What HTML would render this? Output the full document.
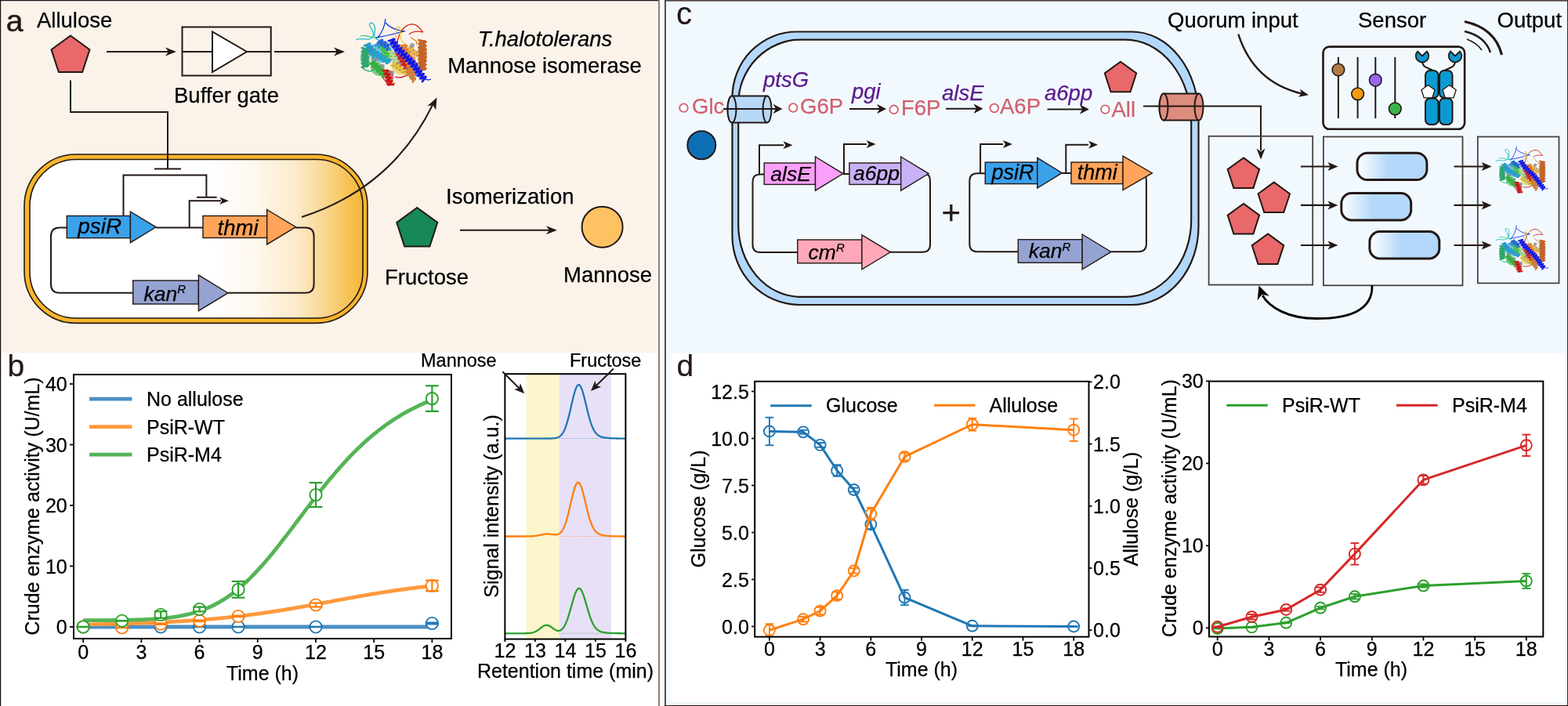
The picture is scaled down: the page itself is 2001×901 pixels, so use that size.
<!DOCTYPE html>
<html><head><meta charset="utf-8"><title>Figure</title>
<style>html,body{margin:0;padding:0;background:#fff;width:2001px;height:901px;overflow:hidden}svg{display:block}</style>
</head><body>
<svg width="2001" height="901" viewBox="0 0 2001 901" font-family='"Liberation Sans", Arial, Helvetica, sans-serif'><defs>
<linearGradient id="cellgrad" x1="0" y1="0" x2="1" y2="0">
<stop offset="0" stop-color="#ffffff"/><stop offset="0.55" stop-color="#ffffff"/>
<stop offset="0.68" stop-color="#FEF7EC"/><stop offset="0.8" stop-color="#FCEACA"/><stop offset="0.88" stop-color="#F9D894"/><stop offset="0.95" stop-color="#F7C459"/><stop offset="1" stop-color="#F5B535"/>
</linearGradient>
<linearGradient id="capgrad" x1="0" y1="0" x2="1" y2="0">
<stop offset="0" stop-color="#ffffff"/><stop offset="0.45" stop-color="#B3D8FB"/><stop offset="1" stop-color="#B3D8FB"/>
</linearGradient>
<symbol id="prot" viewBox="0 0 108 96" overflow="visible"><ellipse cx="18" cy="56" rx="6" ry="12" transform="rotate(0 18 56)" fill="#1faa70" opacity="0.6"/><ellipse cx="36" cy="50" rx="15" ry="11" transform="rotate(30 36 50)" fill="#1ea0d4" opacity="0.6"/><ellipse cx="34" cy="70" rx="10" ry="8" transform="rotate(40 34 70)" fill="#2fae3c" opacity="0.6"/><ellipse cx="45" cy="47" rx="6" ry="6" transform="rotate(0 45 47)" fill="#40d040" opacity="0.6"/><ellipse cx="56" cy="55" rx="7" ry="8" transform="rotate(0 56 55)" fill="#b9dc8c" opacity="0.6"/><ellipse cx="62" cy="70" rx="10" ry="7" transform="rotate(20 62 70)" fill="#e6c83c" opacity="0.6"/><ellipse cx="66" cy="58" rx="6" ry="10" transform="rotate(30 66 58)" fill="#d81818" opacity="0.6"/><ellipse cx="49" cy="82" rx="5" ry="10" transform="rotate(10 49 82)" fill="#d01010" opacity="0.6"/><ellipse cx="76" cy="60" rx="7" ry="20" transform="rotate(0 76 60)" fill="#f08a28" opacity="0.6"/><ellipse cx="91" cy="52" rx="6" ry="19" transform="rotate(0 91 52)" fill="#cf6420" opacity="0.6"/><ellipse cx="72" cy="60" rx="8" ry="26" transform="rotate(-40 72 60)" fill="#1414ee" opacity="0.6"/><ellipse cx="55" cy="39" rx="5" ry="8" transform="rotate(-30 55 39)" fill="#1818e8" opacity="0.6"/><ellipse cx="42" cy="39" rx="7" ry="5" transform="rotate(20 42 39)" fill="#2070e0" opacity="0.6"/><ellipse cx="30" cy="58" rx="5" ry="3" fill="#8c8c8c" opacity="0.8"/><ellipse cx="47" cy="60" rx="4" ry="3" fill="#8c8c8c" opacity="0.8"/><ellipse cx="60" cy="62" rx="4" ry="3" fill="#8c8c8c" opacity="0.8"/><ellipse cx="70" cy="48" rx="3" ry="4" fill="#8c8c8c" opacity="0.8"/><ellipse cx="84" cy="70" rx="3" ry="4" fill="#8c8c8c" opacity="0.8"/><ellipse cx="52" cy="75" rx="3" ry="3" fill="#8c8c8c" opacity="0.8"/><ellipse cx="40" cy="66" rx="3" ry="2" fill="#8c8c8c" opacity="0.8"/><ellipse cx="78" cy="40" rx="3" ry="3" fill="#8c8c8c" opacity="0.8"/><path d="M6 33C14 29 24 36 28 28C31 20 21 16 24 12C28 9 32 15 30 25C29 31 34 34 40 34" fill="none" stroke="#1fc0c8" stroke-width="1.3"/><path d="M12 28C18 25 24 31 33 30" fill="none" stroke="#30d080" stroke-width="1.3"/><path d="M44 6C43 15 40 23 34 30M44 11C50 18 60 21 69 22M32 30C45 28 56 25 67 22" fill="none" stroke="#1838e0" stroke-width="1.3"/><path d="M58 42C60 26 66 15 76 13C85 12 88 19 92 23M74 26C79 21 87 22 92 23" fill="none" stroke="#d82818" stroke-width="1.3"/><path d="M58 31C55 21 59 13 62 17C64 24 60 31 69 39" fill="none" stroke="#d8d040" stroke-width="1.3"/><path d="M87 80C94 83 98 85 102 83" fill="none" stroke="#1030f0" stroke-width="1.3"/><path d="M76 29C80 35 86 32 83 39" fill="none" stroke="#e08020" stroke-width="1.3"/><path d="M40 80C46 90 52 92 56 88" fill="none" stroke="#d01818" stroke-width="1.3"/><path d="M14 68C20 74 26 74 30 70" fill="none" stroke="#20b070" stroke-width="1.3"/><path d="M56 80C62 82 70 80 74 76" fill="none" stroke="#d01818" stroke-width="1.3"/><line x1="18" y1="43" x2="18" y2="68" stroke="#7a7a7a" stroke-width="7.7" opacity="0.9"/><path d="M13.75 43 L22.25 45.5 L13.75 48 L22.25 50.5 L13.75 53 L22.25 55.5 L13.75 58 L22.25 60.5 L13.75 63 L22.25 65.5 L13.75 68" fill="none" stroke="#1fae6c" stroke-width="2.5" stroke-linejoin="round" stroke-linecap="round"/><line x1="20" y1="38" x2="31" y2="53" stroke="#7a7a7a" stroke-width="7" opacity="0.9"/><path d="M16.98 40.22 L24.4 37.66 L19.73 43.97 L27.15 41.41 L22.48 47.72 L29.9 45.16 L25.23 51.47 L32.65 48.91 L27.98 55.22" fill="none" stroke="#1e9bd0" stroke-width="2.5" stroke-linejoin="round" stroke-linecap="round"/><line x1="27" y1="48" x2="49" y2="61" stroke="#7a7a7a" stroke-width="7" opacity="0.9"/><path d="M25.09 51.23 L30.91 45.95 L29.09 53.59 L34.91 48.32 L33.09 55.96 L38.91 50.68 L37.09 58.32 L42.91 53.04 L41.09 60.68 L46.91 55.41 L45.09 63.05 L50.91 57.77" fill="none" stroke="#18a8d8" stroke-width="2.5" stroke-linejoin="round" stroke-linecap="round"/><line x1="33" y1="37" x2="50" y2="48" stroke="#7a7a7a" stroke-width="7" opacity="0.9"/><path d="M30.96 40.15 L37.16 35.23 L35.21 42.9 L41.41 37.98 L39.46 45.65 L45.66 40.73 L43.71 48.4 L49.91 43.48 L47.96 51.15" fill="none" stroke="#22a0da" stroke-width="2.5" stroke-linejoin="round" stroke-linecap="round"/><line x1="26" y1="61" x2="44" y2="79" stroke="#7a7a7a" stroke-width="7" opacity="0.9"/><path d="M23.35 63.65 L30.29 59.98 L26.62 66.92 L33.56 63.26 L29.89 70.2 L36.83 66.53 L33.17 73.47 L40.11 69.8 L36.44 76.74 L43.38 73.08 L39.71 80.02 L46.65 76.35" fill="none" stroke="#2fb63a" stroke-width="2.5" stroke-linejoin="round" stroke-linecap="round"/><line x1="40" y1="42" x2="48" y2="55" stroke="#7a7a7a" stroke-width="5.6" opacity="0.9"/><path d="M37.66 43.44 L43.68 42.73 L40.32 47.77 L46.34 47.06 L42.99 52.11 L49.01 51.39 L45.66 56.44" fill="none" stroke="#3fd040" stroke-width="2.5" stroke-linejoin="round" stroke-linecap="round"/><line x1="36" y1="34" x2="48" y2="43" stroke="#7a7a7a" stroke-width="6.3" opacity="0.9"/><path d="M34.05 36.6 L39.95 32.9 L38.05 39.6 L43.95 35.9 L42.05 42.6 L47.95 38.9 L46.05 45.6" fill="none" stroke="#1e64e0" stroke-width="2.5" stroke-linejoin="round" stroke-linecap="round"/><line x1="50" y1="47" x2="58" y2="61" stroke="#7a7a7a" stroke-width="5.6" opacity="0.9"/><path d="M47.61 48.36 L53.53 47.64 L49.9 52.36 L55.82 51.64 L52.18 56.36 L58.1 55.64 L54.47 60.36 L60.39 59.64" fill="none" stroke="#b8e088" stroke-width="2.5" stroke-linejoin="round" stroke-linecap="round"/><line x1="53" y1="63" x2="72" y2="75" stroke="#7a7a7a" stroke-width="6.3" opacity="0.9"/><path d="M51.26 65.75 L56.85 61.59 L55.49 68.41 L61.07 64.25 L59.71 71.08 L65.29 66.92 L63.93 73.75 L69.51 69.59 L68.15 76.41 L73.74 72.25" fill="none" stroke="#e8c838" stroke-width="2.5" stroke-linejoin="round" stroke-linecap="round"/><line x1="61" y1="50" x2="71" y2="68" stroke="#7a7a7a" stroke-width="6.3" opacity="0.9"/><path d="M58.16 51.58 L65.09 50.67 L60.66 56.08 L67.59 55.17 L63.16 60.58 L70.09 59.67 L65.66 65.08 L72.59 64.17 L68.16 69.58" fill="none" stroke="#e01818" stroke-width="2.5" stroke-linejoin="round" stroke-linecap="round"/><line x1="44" y1="71" x2="51" y2="91" stroke="#7a7a7a" stroke-width="6.3" opacity="0.9"/><path d="M40.93 72.07 L47.85 72.15 L42.49 76.52 L49.4 76.59 L44.04 80.96 L50.96 81.04 L45.6 85.41 L52.51 85.48 L47.15 89.85 L54.07 89.93" fill="none" stroke="#d81010" stroke-width="2.5" stroke-linejoin="round" stroke-linecap="round"/><line x1="67" y1="39" x2="79" y2="79" stroke="#7a7a7a" stroke-width="7" opacity="0.9"/><path d="M63.41 40.08 L71.26 40.14 L64.74 44.52 L72.59 44.59 L66.07 48.97 L73.93 49.03 L67.41 53.41 L75.26 53.48 L68.74 57.86 L76.59 57.92 L70.07 62.3 L77.93 62.37 L71.41 66.74 L79.26 66.81 L72.74 71.19 L80.59 71.26 L74.07 75.63 L81.93 75.7 L75.41 80.08" fill="none" stroke="#f08020" stroke-width="2.5" stroke-linejoin="round" stroke-linecap="round"/><line x1="75" y1="45" x2="87" y2="53" stroke="#7a7a7a" stroke-width="5.6" opacity="0.9"/><path d="M73.47 47.29 L78.53 44.05 L77.47 49.95 L82.53 46.71 L81.47 52.62 L86.53 49.38 L85.47 55.29" fill="none" stroke="#f0b848" stroke-width="2.5" stroke-linejoin="round" stroke-linecap="round"/><line x1="91" y1="33" x2="91" y2="72" stroke="#7a7a7a" stroke-width="8.4" opacity="0.9"/><path d="M86.25 33 L95.75 35.44 L86.25 37.88 L95.75 40.31 L86.25 42.75 L95.75 45.19 L86.25 47.62 L95.75 50.06 L86.25 52.5 L95.75 54.94 L86.25 57.38 L95.75 59.81 L86.25 62.25 L95.75 64.69 L86.25 67.12 L95.75 69.56 L86.25 72" fill="none" stroke="#d0601a" stroke-width="2.5" stroke-linejoin="round" stroke-linecap="round"/><line x1="72" y1="72" x2="81" y2="85" stroke="#7a7a7a" stroke-width="5.6" opacity="0.9"/><path d="M69.74 73.57 L75.76 72.6 L72.74 77.9 L78.76 76.93 L75.74 82.23 L81.76 81.27 L78.74 86.57" fill="none" stroke="#d88030" stroke-width="2.5" stroke-linejoin="round" stroke-linecap="round"/><line x1="51" y1="32" x2="61" y2="46" stroke="#7a7a7a" stroke-width="7" opacity="0.9"/><path d="M47.95 34.18 L55.48 31.82 L50.81 38.18 L58.34 35.82 L53.66 42.18 L61.19 39.82 L56.52 46.18 L64.05 43.82" fill="none" stroke="#1414f0" stroke-width="2.5" stroke-linejoin="round" stroke-linecap="round"/><line x1="60" y1="44" x2="81" y2="66" stroke="#7a7a7a" stroke-width="7" opacity="0.9"/><path d="M57.29 46.59 L64.33 43.1 L60.52 49.97 L67.56 46.49 L63.75 53.36 L70.79 49.87 L66.98 56.74 L74.02 53.26 L70.21 60.13 L77.25 56.64 L73.44 63.51 L80.48 60.03 L76.67 66.9 L83.71 63.41" fill="none" stroke="#1010f0" stroke-width="2.5" stroke-linejoin="round" stroke-linecap="round"/><line x1="80" y1="65" x2="94" y2="84" stroke="#7a7a7a" stroke-width="7" opacity="0.9"/><path d="M76.98 67.22 L84.42 64.68 L79.78 71.02 L87.22 68.48 L82.58 74.82 L90.02 72.28 L85.38 78.62 L92.82 76.08 L88.18 82.42 L95.62 79.88 L90.98 86.22" fill="none" stroke="#1018f0" stroke-width="2.5" stroke-linejoin="round" stroke-linecap="round"/></symbol>
</defs><rect x="0" y="0" width="2001" height="901" rx="0" fill="#ffffff" stroke="none" stroke-width="1"/>
<rect x="2.5" y="2.5" width="836.5" height="448" rx="0" fill="#FBF3EA" stroke="none" stroke-width="1"/>
<line x1="0.6" y1="0" x2="0.6" y2="901" stroke="#1a1010" stroke-width="1.3"/>
<line x1="0" y1="0.6" x2="842" y2="0.6" stroke="#1a1010" stroke-width="1.3"/>
<line x1="841" y1="0" x2="841" y2="901" stroke="#8a807c" stroke-width="2"/>
<rect x="850" y="2.5" width="1149" height="896.5" rx="0" fill="#F2F9FE" stroke="none" stroke-width="1"/>
<rect x="855.5" y="451" width="1140.5" height="445" rx="0" fill="#ffffff" stroke="none" stroke-width="1"/>
<line x1="849" y1="0" x2="849" y2="901" stroke="#564c4a" stroke-width="2"/>
<line x1="848" y1="0.9" x2="2001" y2="0.9" stroke="#564c4a" stroke-width="1.8"/>
<line x1="1999.4" y1="2" x2="1999.4" y2="899" stroke="#ffffff" stroke-width="1"/>
<line x1="851" y1="899.4" x2="1999" y2="899.4" stroke="#ffffff" stroke-width="1"/>
<line x1="2000.5" y1="0" x2="2000.5" y2="901" stroke="#3a3030" stroke-width="1.2"/>
<line x1="848" y1="900.5" x2="2001" y2="900.5" stroke="#231815" stroke-width="1.2"/>
<text x="7.8" y="40" font-size="39" text-anchor="start" fill="#231815" stroke="#231815" stroke-width="0.5">a</text>
<text x="47" y="35" font-size="27.5" text-anchor="start" fill="#000" stroke="#000" stroke-width="0.25">Allulose</text>
<polygon points="90,45.5 114.45,63.26 105.11,92 74.89,92 65.55,63.26" fill="#E9686A" stroke="#231815" stroke-width="2" stroke-linejoin="miter"/>
<line x1="136" y1="66" x2="215" y2="66" stroke="#231815" stroke-width="2"/>
<polygon points="225,66 211,60.5 215,66 211,71.5" fill="#231815" stroke="none" stroke-width="0"/>
<rect x="232.5" y="34.5" width="113.25" height="62" rx="0" fill="none" stroke="#231815" stroke-width="2"/>
<line x1="232.5" y1="66" x2="271" y2="66" stroke="#231815" stroke-width="2"/>
<line x1="315" y1="66" x2="345.75" y2="66" stroke="#231815" stroke-width="2"/>
<polygon points="271,40.5 271,92 315,66" fill="#ffffff" stroke="#231815" stroke-width="2"/>
<text x="222" y="130.5" font-size="27.5" text-anchor="start" fill="#000" stroke="#000" stroke-width="0.25">Buffer gate</text>
<line x1="350" y1="66" x2="430" y2="66" stroke="#231815" stroke-width="2"/>
<polygon points="440,66 426,60.5 430,66 426,71.5" fill="#231815" stroke="none" stroke-width="0"/>
<use href="#prot" x="448" y="18" width="108" height="96"/>
<text x="695.5" y="58.5" font-size="27.5" text-anchor="middle" fill="#000" font-style="italic" stroke="#000" stroke-width="0.25">T.halotolerans</text>
<text x="695" y="93" font-size="27.5" text-anchor="middle" fill="#000" stroke="#000" stroke-width="0.25">Mannose isomerase</text>
<rect x="31" y="197" width="438" height="215.4" rx="66" fill="#F7B52C" stroke="#231815" stroke-width="1.6"/>
<rect x="38" y="203.5" width="425" height="202.5" rx="59" fill="url(#cellgrad)" stroke="#231815" stroke-width="1.6"/>
<path d="M90 102.5V143H214V215.5" stroke="#231815" stroke-width="2" fill="none"/>
<line x1="197" y1="215.5" x2="231" y2="215.5" stroke="#231815" stroke-width="2"/>
<path d="M385 277Q500 240 552 134" stroke="#231815" stroke-width="2" fill="none"/>
<polygon points="557.5,124.5 545.44,135.25 552.6,134.35 556.19,140.6" fill="#231815" stroke="none" stroke-width="0"/>
<path d="M85.3 290.5H76Q65 290.5 65 301.5V362.7Q65 373.7 76 373.7H170" stroke="#231815" stroke-width="2" fill="none"/>
<path d="M291 373.7H390Q400.6 373.7 400.6 362.7V301.5Q400.6 290.5 390 290.5H377" stroke="#231815" stroke-width="2" fill="none"/>
<line x1="199" y1="290.5" x2="259" y2="290.5" stroke="#231815" stroke-width="2"/>
<path d="M241.7 290.5V256.3H282" stroke="#231815" stroke-width="2" fill="none"/>
<polygon points="291.8,256.3 280.3,251.5 283.3,256.3 280.3,261.1" fill="#231815" stroke="none" stroke-width="0"/>
<path d="M157.5 276V223.5H263.4V251.8" stroke="#231815" stroke-width="2" fill="none"/>
<line x1="251" y1="251.8" x2="276.7" y2="251.8" stroke="#231815" stroke-width="2"/>
<rect x="85.3" y="275.5" width="81.1" height="28.2" rx="0" fill="#3AA1EB" stroke="#231815" stroke-width="1.4"/>
<polygon points="166.4,270 199,289.85 166.4,309.7" fill="#3AA1EB" stroke="#231815" stroke-width="1.4" stroke-linejoin="miter"/>
<text x="99.16" y="297.7" font-size="28" text-anchor="start" fill="#000" font-style="italic" stroke="#000" stroke-width="0.25">psiR</text>
<rect x="259" y="275.5" width="81.7" height="28" rx="0" fill="#FFA45A" stroke="#231815" stroke-width="1.4"/>
<polygon points="340.7,267.5 377.5,289.7 340.7,311.9" fill="#FFA45A" stroke="#231815" stroke-width="1.4" stroke-linejoin="miter"/>
<text x="277.56" y="299.5" font-size="27.5" text-anchor="start" fill="#000" font-style="italic" stroke="#000" stroke-width="0.25">thmi</text>
<rect x="169.7" y="358" width="83.7" height="30" rx="0" fill="#95A3D3" stroke="#231815" stroke-width="1.4"/>
<polygon points="253.4,351 290.9,373.9 253.4,396.8" fill="#95A3D3" stroke="#231815" stroke-width="1.4" stroke-linejoin="miter"/>
<text x="183.6" y="383.5" font-size="26.5" font-style="italic" fill="#000" stroke="#000" stroke-width="0.25">kan<tspan font-size="15" dy="-9.01">R</tspan></text>
<polygon points="532.3,265 558.32,283.91 548.38,314.5 516.22,314.5 506.28,283.91" fill="#16885A" stroke="#231815" stroke-width="2" stroke-linejoin="miter"/>
<text x="491" y="363" font-size="27.5" text-anchor="start" fill="#000" stroke="#000" stroke-width="0.25">Fructose</text>
<line x1="587" y1="293.7" x2="701" y2="293.7" stroke="#231815" stroke-width="2"/>
<polygon points="711,293.7 697,288.2 701,293.7 697,299.2" fill="#231815" stroke="none" stroke-width="0"/>
<text x="569" y="260" font-size="27.5" text-anchor="start" fill="#000" stroke="#000" stroke-width="0.25">Isomerization</text>
<circle cx="768.6" cy="289.7" r="26" fill="#FFC262" stroke="#231815" stroke-width="2"/>
<text x="719" y="359.5" font-size="27.5" text-anchor="start" fill="#000" stroke="#000" stroke-width="0.25">Mannose</text>
<text x="9.4" y="479.9" font-size="39" text-anchor="start" fill="#231815" stroke="#231815" stroke-width="0.25">b</text>
<path d="M106.2 800 L551.4 800" fill="none" stroke="#4A90C4" stroke-width="4.8" stroke-linejoin="round" stroke-linecap="butt"/>
<circle cx="106.2" cy="800" r="7.6" fill="#ffffff" stroke="#1f77b4" stroke-width="1.9"/>
<line x1="106.2" y1="799.85" x2="106.2" y2="800.15" stroke="#1f77b4" stroke-width="2.2"/>
<line x1="97.8" y1="799.85" x2="114.6" y2="799.85" stroke="#1f77b4" stroke-width="2.2"/>
<line x1="97.8" y1="800.15" x2="114.6" y2="800.15" stroke="#1f77b4" stroke-width="2.2"/>
<circle cx="155.67" cy="800" r="7.6" fill="#ffffff" stroke="#1f77b4" stroke-width="1.9"/>
<line x1="155.67" y1="799.85" x2="155.67" y2="800.15" stroke="#1f77b4" stroke-width="2.2"/>
<line x1="147.27" y1="799.85" x2="164.07" y2="799.85" stroke="#1f77b4" stroke-width="2.2"/>
<line x1="147.27" y1="800.15" x2="164.07" y2="800.15" stroke="#1f77b4" stroke-width="2.2"/>
<circle cx="205.13" cy="800" r="7.6" fill="#ffffff" stroke="#1f77b4" stroke-width="1.9"/>
<line x1="205.13" y1="799.85" x2="205.13" y2="800.15" stroke="#1f77b4" stroke-width="2.2"/>
<line x1="196.73" y1="799.85" x2="213.53" y2="799.85" stroke="#1f77b4" stroke-width="2.2"/>
<line x1="196.73" y1="800.15" x2="213.53" y2="800.15" stroke="#1f77b4" stroke-width="2.2"/>
<circle cx="254.6" cy="800" r="7.6" fill="#ffffff" stroke="#1f77b4" stroke-width="1.9"/>
<line x1="254.6" y1="799.85" x2="254.6" y2="800.15" stroke="#1f77b4" stroke-width="2.2"/>
<line x1="246.2" y1="799.85" x2="263" y2="799.85" stroke="#1f77b4" stroke-width="2.2"/>
<line x1="246.2" y1="800.15" x2="263" y2="800.15" stroke="#1f77b4" stroke-width="2.2"/>
<circle cx="304.07" cy="800" r="7.6" fill="#ffffff" stroke="#1f77b4" stroke-width="1.9"/>
<line x1="304.07" y1="799.85" x2="304.07" y2="800.15" stroke="#1f77b4" stroke-width="2.2"/>
<line x1="295.67" y1="799.85" x2="312.47" y2="799.85" stroke="#1f77b4" stroke-width="2.2"/>
<line x1="295.67" y1="800.15" x2="312.47" y2="800.15" stroke="#1f77b4" stroke-width="2.2"/>
<circle cx="403" cy="800" r="7.6" fill="#ffffff" stroke="#1f77b4" stroke-width="1.9"/>
<line x1="403" y1="799.85" x2="403" y2="800.15" stroke="#1f77b4" stroke-width="2.2"/>
<line x1="394.6" y1="799.85" x2="411.4" y2="799.85" stroke="#1f77b4" stroke-width="2.2"/>
<line x1="394.6" y1="800.15" x2="411.4" y2="800.15" stroke="#1f77b4" stroke-width="2.2"/>
<circle cx="551.4" cy="795.5" r="7.6" fill="#ffffff" stroke="#1f77b4" stroke-width="1.9"/>
<line x1="551.4" y1="794.65" x2="551.4" y2="796.36" stroke="#1f77b4" stroke-width="2.2"/>
<line x1="543" y1="794.65" x2="559.8" y2="794.65" stroke="#1f77b4" stroke-width="2.2"/>
<line x1="543" y1="796.36" x2="559.8" y2="796.36" stroke="#1f77b4" stroke-width="2.2"/>
<path d="M106.2 797 L108.67 796.96 L111.15 796.92 L113.62 796.88 L116.09 796.84 L118.57 796.79 L121.04 796.75 L123.51 796.7 L125.99 796.66 L128.46 796.61 L130.93 796.56 L133.41 796.51 L135.88 796.45 L138.35 796.4 L140.83 796.34 L143.3 796.29 L145.77 796.23 L148.25 796.17 L150.72 796.1 L153.19 796.04 L155.67 795.97 L158.14 795.91 L160.61 795.84 L163.09 795.76 L165.56 795.69 L168.03 795.61 L170.51 795.54 L172.98 795.46 L175.45 795.37 L177.93 795.29 L180.4 795.2 L182.87 795.11 L185.35 795.02 L187.82 794.93 L190.29 794.83 L192.77 794.73 L195.24 794.63 L197.71 794.52 L200.19 794.42 L202.66 794.3 L205.13 794.19 L207.61 794.07 L210.08 793.96 L212.55 793.83 L215.03 793.71 L217.5 793.58 L219.97 793.45 L222.45 793.31 L224.92 793.17 L227.39 793.03 L229.87 792.88 L232.34 792.73 L234.81 792.58 L237.29 792.42 L239.76 792.26 L242.23 792.09 L244.71 791.92 L247.18 791.75 L249.65 791.57 L252.13 791.39 L254.6 791.2 L257.07 791.01 L259.55 790.82 L262.02 790.62 L264.49 790.41 L266.97 790.21 L269.44 789.99 L271.91 789.77 L274.39 789.55 L276.86 789.32 L279.33 789.09 L281.81 788.85 L284.28 788.61 L286.75 788.36 L289.23 788.11 L291.7 787.85 L294.17 787.59 L296.65 787.32 L299.12 787.05 L301.59 786.77 L304.07 786.49 L306.54 786.2 L309.01 785.9 L311.49 785.6 L313.96 785.3 L316.43 784.99 L318.91 784.67 L321.38 784.35 L323.85 784.03 L326.33 783.69 L328.8 783.36 L331.27 783.02 L333.75 782.67 L336.22 782.32 L338.69 781.96 L341.17 781.6 L343.64 781.23 L346.11 780.86 L348.59 780.48 L351.06 780.1 L353.53 779.71 L356.01 779.32 L358.48 778.93 L360.95 778.53 L363.43 778.12 L365.9 777.71 L368.37 777.3 L370.85 776.89 L373.32 776.47 L375.79 776.04 L378.27 775.62 L380.74 775.19 L383.21 774.75 L385.69 774.32 L388.16 773.88 L390.63 773.44 L393.11 772.99 L395.58 772.54 L398.05 772.1 L400.53 771.65 L403 771.19 L405.47 770.74 L407.95 770.28 L410.42 769.83 L412.89 769.37 L415.37 768.91 L417.84 768.46 L420.31 768 L422.79 767.54 L425.26 767.08 L427.73 766.62 L430.21 766.16 L432.68 765.71 L435.15 765.25 L437.63 764.8 L440.1 764.34 L442.57 763.89 L445.05 763.44 L447.52 762.99 L449.99 762.55 L452.47 762.1 L454.94 761.66 L457.41 761.22 L459.89 760.79 L462.36 760.35 L464.83 759.93 L467.31 759.5 L469.78 759.08 L472.25 758.66 L474.73 758.24 L477.2 757.83 L479.67 757.42 L482.15 757.02 L484.62 756.62 L487.09 756.23 L489.57 755.84 L492.04 755.45 L494.51 755.07 L496.99 754.69 L499.46 754.32 L501.93 753.96 L504.41 753.59 L506.88 753.24 L509.35 752.89 L511.83 752.54 L514.3 752.2 L516.77 751.86 L519.25 751.53 L521.72 751.21 L524.19 750.89 L526.67 750.57 L529.14 750.26 L531.61 749.96 L534.09 749.66 L536.56 749.37 L539.03 749.08 L541.51 748.8 L543.98 748.52 L546.45 748.25 L548.93 747.98 L551.4 747.72" fill="none" stroke="#FF993C" stroke-width="4.8" stroke-linejoin="round" stroke-linecap="butt"/>
<circle cx="106.2" cy="800" r="7.6" fill="#ffffff" stroke="#ff7f0e" stroke-width="1.9"/>
<line x1="106.2" y1="799.85" x2="106.2" y2="800.15" stroke="#ff7f0e" stroke-width="2.2"/>
<line x1="97.8" y1="799.85" x2="114.6" y2="799.85" stroke="#ff7f0e" stroke-width="2.2"/>
<line x1="97.8" y1="800.15" x2="114.6" y2="800.15" stroke="#ff7f0e" stroke-width="2.2"/>
<circle cx="155.67" cy="801.01" r="7.6" fill="#ffffff" stroke="#ff7f0e" stroke-width="1.9"/>
<line x1="155.67" y1="800.85" x2="155.67" y2="801.16" stroke="#ff7f0e" stroke-width="2.2"/>
<line x1="147.27" y1="800.85" x2="164.07" y2="800.85" stroke="#ff7f0e" stroke-width="2.2"/>
<line x1="147.27" y1="801.16" x2="164.07" y2="801.16" stroke="#ff7f0e" stroke-width="2.2"/>
<circle cx="205.13" cy="796.2" r="7.6" fill="#ffffff" stroke="#ff7f0e" stroke-width="1.9"/>
<line x1="205.13" y1="795.43" x2="205.13" y2="796.98" stroke="#ff7f0e" stroke-width="2.2"/>
<line x1="196.73" y1="795.43" x2="213.53" y2="795.43" stroke="#ff7f0e" stroke-width="2.2"/>
<line x1="196.73" y1="796.98" x2="213.53" y2="796.98" stroke="#ff7f0e" stroke-width="2.2"/>
<circle cx="254.6" cy="792.25" r="7.6" fill="#ffffff" stroke="#ff7f0e" stroke-width="1.9"/>
<line x1="254.6" y1="791.48" x2="254.6" y2="793.02" stroke="#ff7f0e" stroke-width="2.2"/>
<line x1="246.2" y1="791.48" x2="263" y2="791.48" stroke="#ff7f0e" stroke-width="2.2"/>
<line x1="246.2" y1="793.02" x2="263" y2="793.02" stroke="#ff7f0e" stroke-width="2.2"/>
<circle cx="304.07" cy="786.44" r="7.6" fill="#ffffff" stroke="#ff7f0e" stroke-width="1.9"/>
<line x1="304.07" y1="785.66" x2="304.07" y2="787.21" stroke="#ff7f0e" stroke-width="2.2"/>
<line x1="295.67" y1="785.66" x2="312.47" y2="785.66" stroke="#ff7f0e" stroke-width="2.2"/>
<line x1="295.67" y1="787.21" x2="312.47" y2="787.21" stroke="#ff7f0e" stroke-width="2.2"/>
<circle cx="403" cy="772.02" r="7.6" fill="#ffffff" stroke="#ff7f0e" stroke-width="1.9"/>
<line x1="403" y1="769.47" x2="403" y2="774.58" stroke="#ff7f0e" stroke-width="2.2"/>
<line x1="394.6" y1="769.47" x2="411.4" y2="769.47" stroke="#ff7f0e" stroke-width="2.2"/>
<line x1="394.6" y1="774.58" x2="411.4" y2="774.58" stroke="#ff7f0e" stroke-width="2.2"/>
<circle cx="551.4" cy="747.53" r="7.6" fill="#ffffff" stroke="#ff7f0e" stroke-width="1.9"/>
<line x1="551.4" y1="740.79" x2="551.4" y2="754.27" stroke="#ff7f0e" stroke-width="2.2"/>
<line x1="543" y1="740.79" x2="559.8" y2="740.79" stroke="#ff7f0e" stroke-width="2.2"/>
<line x1="543" y1="754.27" x2="559.8" y2="754.27" stroke="#ff7f0e" stroke-width="2.2"/>
<path d="M106.2 791.69 L108.67 791.68 L111.15 791.68 L113.62 791.67 L116.09 791.66 L118.57 791.66 L121.04 791.65 L123.51 791.64 L125.99 791.63 L128.46 791.62 L130.93 791.61 L133.41 791.59 L135.88 791.58 L138.35 791.56 L140.83 791.54 L143.3 791.52 L145.77 791.5 L148.25 791.47 L150.72 791.44 L153.19 791.41 L155.67 791.38 L158.14 791.34 L160.61 791.3 L163.09 791.26 L165.56 791.21 L168.03 791.15 L170.51 791.09 L172.98 791.02 L175.45 790.95 L177.93 790.87 L180.4 790.79 L182.87 790.69 L185.35 790.59 L187.82 790.47 L190.29 790.35 L192.77 790.22 L195.24 790.07 L197.71 789.91 L200.19 789.74 L202.66 789.55 L205.13 789.35 L207.61 789.13 L210.08 788.89 L212.55 788.63 L215.03 788.35 L217.5 788.05 L219.97 787.73 L222.45 787.38 L224.92 787.01 L227.39 786.61 L229.87 786.18 L232.34 785.71 L234.81 785.22 L237.29 784.69 L239.76 784.13 L242.23 783.53 L244.71 782.89 L247.18 782.2 L249.65 781.48 L252.13 780.71 L254.6 779.89 L257.07 779.03 L259.55 778.12 L262.02 777.15 L264.49 776.14 L266.97 775.06 L269.44 773.94 L271.91 772.75 L274.39 771.5 L276.86 770.2 L279.33 768.83 L281.81 767.41 L284.28 765.91 L286.75 764.36 L289.23 762.74 L291.7 761.05 L294.17 759.29 L296.65 757.47 L299.12 755.59 L301.59 753.63 L304.07 751.61 L306.54 749.53 L309.01 747.38 L311.49 745.16 L313.96 742.87 L316.43 740.53 L318.91 738.12 L321.38 735.65 L323.85 733.12 L326.33 730.53 L328.8 727.89 L331.27 725.18 L333.75 722.43 L336.22 719.63 L338.69 716.77 L341.17 713.87 L343.64 710.93 L346.11 707.94 L348.59 704.91 L351.06 701.85 L353.53 698.76 L356.01 695.63 L358.48 692.47 L360.95 689.29 L363.43 686.09 L365.9 682.86 L368.37 679.62 L370.85 676.36 L373.32 673.1 L375.79 669.82 L378.27 666.54 L380.74 663.26 L383.21 659.97 L385.69 656.69 L388.16 653.41 L390.63 650.14 L393.11 646.88 L395.58 643.64 L398.05 640.41 L400.53 637.19 L403 634 L405.47 630.82 L407.95 627.67 L410.42 624.55 L412.89 621.45 L415.37 618.38 L417.84 615.34 L420.31 612.33 L422.79 609.36 L425.26 606.42 L427.73 603.51 L430.21 600.65 L432.68 597.82 L435.15 595.03 L437.63 592.28 L440.1 589.57 L442.57 586.9 L445.05 584.27 L447.52 581.69 L449.99 579.15 L452.47 576.65 L454.94 574.2 L457.41 571.79 L459.89 569.42 L462.36 567.1 L464.83 564.82 L467.31 562.59 L469.78 560.4 L472.25 558.26 L474.73 556.16 L477.2 554.1 L479.67 552.09 L482.15 550.12 L484.62 548.19 L487.09 546.3 L489.57 544.46 L492.04 542.66 L494.51 540.9 L496.99 539.18 L499.46 537.5 L501.93 535.86 L504.41 534.26 L506.88 532.69 L509.35 531.17 L511.83 529.68 L514.3 528.23 L516.77 526.82 L519.25 525.44 L521.72 524.1 L524.19 522.79 L526.67 521.51 L529.14 520.27 L531.61 519.06 L534.09 517.88 L536.56 516.74 L539.03 515.62 L541.51 514.53 L543.98 513.48 L546.45 512.45 L548.93 511.45 L551.4 510.47" fill="none" stroke="#55B455" stroke-width="4.8" stroke-linejoin="round" stroke-linecap="butt"/>
<circle cx="106.2" cy="800" r="7.6" fill="#ffffff" stroke="#2ca02c" stroke-width="1.9"/>
<line x1="106.2" y1="799.85" x2="106.2" y2="800.15" stroke="#2ca02c" stroke-width="2.2"/>
<line x1="97.8" y1="799.85" x2="114.6" y2="799.85" stroke="#2ca02c" stroke-width="2.2"/>
<line x1="97.8" y1="800.15" x2="114.6" y2="800.15" stroke="#2ca02c" stroke-width="2.2"/>
<circle cx="155.67" cy="792.25" r="7.6" fill="#ffffff" stroke="#2ca02c" stroke-width="1.9"/>
<line x1="155.67" y1="792.1" x2="155.67" y2="792.4" stroke="#2ca02c" stroke-width="2.2"/>
<line x1="147.27" y1="792.1" x2="164.07" y2="792.1" stroke="#2ca02c" stroke-width="2.2"/>
<line x1="147.27" y1="792.4" x2="164.07" y2="792.4" stroke="#2ca02c" stroke-width="2.2"/>
<circle cx="205.13" cy="784.5" r="7.6" fill="#ffffff" stroke="#2ca02c" stroke-width="1.9"/>
<line x1="205.13" y1="780.24" x2="205.13" y2="788.76" stroke="#2ca02c" stroke-width="2.2"/>
<line x1="196.73" y1="780.24" x2="213.53" y2="780.24" stroke="#2ca02c" stroke-width="2.2"/>
<line x1="196.73" y1="788.76" x2="213.53" y2="788.76" stroke="#2ca02c" stroke-width="2.2"/>
<circle cx="254.6" cy="777.52" r="7.6" fill="#ffffff" stroke="#2ca02c" stroke-width="1.9"/>
<line x1="254.6" y1="774.66" x2="254.6" y2="780.39" stroke="#2ca02c" stroke-width="2.2"/>
<line x1="246.2" y1="774.66" x2="263" y2="774.66" stroke="#2ca02c" stroke-width="2.2"/>
<line x1="246.2" y1="780.39" x2="263" y2="780.39" stroke="#2ca02c" stroke-width="2.2"/>
<circle cx="304.07" cy="752.34" r="7.6" fill="#ffffff" stroke="#2ca02c" stroke-width="1.9"/>
<line x1="304.07" y1="741.95" x2="304.07" y2="762.72" stroke="#2ca02c" stroke-width="2.2"/>
<line x1="295.67" y1="741.95" x2="312.47" y2="741.95" stroke="#2ca02c" stroke-width="2.2"/>
<line x1="295.67" y1="762.72" x2="312.47" y2="762.72" stroke="#2ca02c" stroke-width="2.2"/>
<circle cx="403" cy="631.51" r="7.6" fill="#ffffff" stroke="#2ca02c" stroke-width="1.9"/>
<line x1="403" y1="616.01" x2="403" y2="647.01" stroke="#2ca02c" stroke-width="2.2"/>
<line x1="394.6" y1="616.01" x2="411.4" y2="616.01" stroke="#2ca02c" stroke-width="2.2"/>
<line x1="394.6" y1="647.01" x2="411.4" y2="647.01" stroke="#2ca02c" stroke-width="2.2"/>
<circle cx="551.4" cy="508.6" r="7.6" fill="#ffffff" stroke="#2ca02c" stroke-width="1.9"/>
<line x1="551.4" y1="492.32" x2="551.4" y2="524.88" stroke="#2ca02c" stroke-width="2.2"/>
<line x1="543" y1="492.32" x2="559.8" y2="492.32" stroke="#2ca02c" stroke-width="2.2"/>
<line x1="543" y1="524.88" x2="559.8" y2="524.88" stroke="#2ca02c" stroke-width="2.2"/>
<rect x="94" y="478" width="482" height="337" rx="0" fill="none" stroke="#000" stroke-width="2"/>
<line x1="106.2" y1="815" x2="106.2" y2="820" stroke="#000" stroke-width="1.8"/>
<text x="106.2" y="840.6" font-size="25.1" text-anchor="middle" fill="#000" stroke="#000" stroke-width="0.25">0</text>
<line x1="180.4" y1="815" x2="180.4" y2="820" stroke="#000" stroke-width="1.8"/>
<text x="180.4" y="840.6" font-size="25.1" text-anchor="middle" fill="#000" stroke="#000" stroke-width="0.25">3</text>
<line x1="254.6" y1="815" x2="254.6" y2="820" stroke="#000" stroke-width="1.8"/>
<text x="254.6" y="840.6" font-size="25.1" text-anchor="middle" fill="#000" stroke="#000" stroke-width="0.25">6</text>
<line x1="328.8" y1="815" x2="328.8" y2="820" stroke="#000" stroke-width="1.8"/>
<text x="328.8" y="840.6" font-size="25.1" text-anchor="middle" fill="#000" stroke="#000" stroke-width="0.25">9</text>
<line x1="403" y1="815" x2="403" y2="820" stroke="#000" stroke-width="1.8"/>
<text x="403" y="840.6" font-size="25.1" text-anchor="middle" fill="#000" stroke="#000" stroke-width="0.25">12</text>
<line x1="477.2" y1="815" x2="477.2" y2="820" stroke="#000" stroke-width="1.8"/>
<text x="477.2" y="840.6" font-size="25.1" text-anchor="middle" fill="#000" stroke="#000" stroke-width="0.25">15</text>
<line x1="551.4" y1="815" x2="551.4" y2="820" stroke="#000" stroke-width="1.8"/>
<text x="551.4" y="840.6" font-size="25.1" text-anchor="middle" fill="#000" stroke="#000" stroke-width="0.25">18</text>
<line x1="89" y1="800" x2="94" y2="800" stroke="#000" stroke-width="1.8"/>
<text x="85.8" y="809.04" font-size="25.1" text-anchor="end" fill="#000" stroke="#000" stroke-width="0.25">0</text>
<line x1="89" y1="722.5" x2="94" y2="722.5" stroke="#000" stroke-width="1.8"/>
<text x="85.8" y="731.54" font-size="25.1" text-anchor="end" fill="#000" stroke="#000" stroke-width="0.25">10</text>
<line x1="89" y1="645" x2="94" y2="645" stroke="#000" stroke-width="1.8"/>
<text x="85.8" y="654.04" font-size="25.1" text-anchor="end" fill="#000" stroke="#000" stroke-width="0.25">20</text>
<line x1="89" y1="567.5" x2="94" y2="567.5" stroke="#000" stroke-width="1.8"/>
<text x="85.8" y="576.54" font-size="25.1" text-anchor="end" fill="#000" stroke="#000" stroke-width="0.25">30</text>
<line x1="89" y1="490" x2="94" y2="490" stroke="#000" stroke-width="1.8"/>
<text x="85.8" y="499.04" font-size="25.1" text-anchor="end" fill="#000" stroke="#000" stroke-width="0.25">40</text>
<text x="335" y="868" font-size="25" text-anchor="middle" fill="#000" stroke="#000" stroke-width="0.25">Time (h)</text>
<text x="49.5" y="646" font-size="25" text-anchor="middle" fill="#000" transform="rotate(-90 49.5 646)" stroke="#000" stroke-width="0.25">Crude enzyme activity (U/mL)</text>
<line x1="114" y1="509.2" x2="168.4" y2="509.2" stroke="#4A90C4" stroke-width="4.8"/>
<text x="187" y="518.4" font-size="25" text-anchor="start" fill="#000" stroke="#000" stroke-width="0.25">No allulose</text>
<line x1="114" y1="544.65" x2="168.4" y2="544.65" stroke="#FF993C" stroke-width="4.8"/>
<text x="187" y="553.85" font-size="25" text-anchor="start" fill="#000" stroke="#000" stroke-width="0.25">PsiR-WT</text>
<line x1="114" y1="580.1" x2="168.4" y2="580.1" stroke="#55B455" stroke-width="4.8"/>
<text x="187" y="589.3" font-size="25" text-anchor="start" fill="#000" stroke="#000" stroke-width="0.25">PsiR-M4</text>
<rect x="671.35" y="478" width="42.35" height="337" rx="0" fill="#FDF5CC" stroke="none" stroke-width="1"/>
<rect x="713.7" y="478" width="66.22" height="337" rx="0" fill="#E8E0F6" stroke="none" stroke-width="1"/>
<line x1="713.7" y1="559.6" x2="798" y2="559.6" stroke="#1f77b4" stroke-width="1" stroke-dasharray="1.5 2" opacity="0.6"/>
<path d="M644.4 559.6 L645.04 559.6 L645.68 559.6 L646.33 559.6 L646.97 559.6 L647.61 559.6 L648.25 559.6 L648.89 559.6 L649.53 559.6 L650.17 559.6 L650.82 559.6 L651.46 559.6 L652.1 559.6 L652.74 559.6 L653.38 559.6 L654.02 559.6 L654.67 559.6 L655.31 559.6 L655.95 559.6 L656.59 559.6 L657.23 559.6 L657.88 559.6 L658.52 559.6 L659.16 559.6 L659.8 559.6 L660.44 559.6 L661.08 559.6 L661.72 559.6 L662.37 559.6 L663.01 559.6 L663.65 559.6 L664.29 559.6 L664.93 559.6 L665.58 559.6 L666.22 559.6 L666.86 559.6 L667.5 559.6 L668.14 559.6 L668.78 559.6 L669.42 559.6 L670.07 559.6 L670.71 559.6 L671.35 559.6 L671.99 559.6 L672.63 559.6 L673.27 559.6 L673.92 559.6 L674.56 559.6 L675.2 559.6 L675.84 559.6 L676.48 559.6 L677.12 559.6 L677.77 559.6 L678.41 559.6 L679.05 559.6 L679.69 559.6 L680.33 559.6 L680.97 559.6 L681.62 559.6 L682.26 559.6 L682.9 559.6 L683.54 559.6 L684.18 559.6 L684.83 559.6 L685.47 559.6 L686.11 559.6 L686.75 559.6 L687.39 559.6 L688.03 559.6 L688.67 559.6 L689.32 559.6 L689.96 559.6 L690.6 559.6 L691.24 559.6 L691.88 559.6 L692.52 559.6 L693.17 559.6 L693.81 559.6 L694.45 559.6 L695.09 559.6 L695.73 559.6 L696.38 559.59 L697.02 559.59 L697.66 559.59 L698.3 559.59 L698.94 559.59 L699.58 559.58 L700.22 559.58 L700.87 559.57 L701.51 559.56 L702.15 559.55 L702.79 559.53 L703.43 559.52 L704.08 559.5 L704.72 559.47 L705.36 559.43 L706 559.39 L706.64 559.34 L707.28 559.28 L707.92 559.2 L708.57 559.11 L709.21 558.99 L709.85 558.86 L710.49 558.69 L711.13 558.5 L711.77 558.27 L712.42 558 L713.06 557.68 L713.7 557.31 L714.34 556.88 L714.98 556.38 L715.62 555.8 L716.27 555.15 L716.91 554.4 L717.55 553.55 L718.19 552.6 L718.83 551.54 L719.47 550.35 L720.12 549.04 L720.76 547.6 L721.4 546.02 L722.04 544.3 L722.68 542.44 L723.33 540.45 L723.97 538.32 L724.61 536.06 L725.25 533.68 L725.89 531.19 L726.53 528.6 L727.17 525.92 L727.82 523.19 L728.46 520.41 L729.1 517.61 L729.74 514.81 L730.38 512.05 L731.02 509.35 L731.67 506.73 L732.31 504.23 L732.95 501.87 L733.59 499.69 L734.23 497.71 L734.88 495.95 L735.52 494.44 L736.16 493.19 L736.8 492.22 L737.44 491.55 L738.08 491.18 L738.72 491.12 L739.37 491.36 L740.01 491.9 L740.65 492.74 L741.29 493.86 L741.93 495.25 L742.58 496.88 L743.22 498.74 L743.86 500.8 L744.5 503.03 L745.14 505.41 L745.78 507.91 L746.42 510.51 L747.07 513.16 L747.71 515.85 L748.35 518.55 L748.99 521.23 L749.63 523.88 L750.27 526.47 L750.92 528.99 L751.56 531.42 L752.2 533.74 L752.84 535.95 L753.48 538.04 L754.12 540.01 L754.77 541.84 L755.41 543.55 L756.05 545.12 L756.69 546.57 L757.33 547.9 L757.97 549.1 L758.62 550.2 L759.26 551.19 L759.9 552.08 L760.54 552.88 L761.18 553.59 L761.83 554.23 L762.47 554.79 L763.11 555.29 L763.75 555.74 L764.39 556.13 L765.03 556.48 L765.67 556.79 L766.32 557.07 L766.96 557.31 L767.6 557.53 L768.24 557.72 L768.88 557.89 L769.52 558.05 L770.17 558.19 L770.81 558.31 L771.45 558.42 L772.09 558.53 L772.73 558.62 L773.38 558.71 L774.02 558.78 L774.66 558.86 L775.3 558.92 L775.94 558.98 L776.58 559.04 L777.22 559.09 L777.87 559.14 L778.51 559.18 L779.15 559.22 L779.79 559.26 L780.43 559.29 L781.08 559.32 L781.72 559.35 L782.36 559.38 L783 559.4 L783.64 559.42 L784.28 559.44 L784.92 559.46 L785.57 559.47 L786.21 559.49 L786.85 559.5 L787.49 559.51 L788.13 559.52 L788.77 559.53 L789.42 559.54 L790.06 559.55 L790.7 559.55 L791.34 559.56 L791.98 559.57 L792.62 559.57 L793.27 559.57 L793.91 559.58 L794.55 559.58 L795.19 559.58 L795.83 559.59 L796.47 559.59 L797.12 559.59 L797.76 559.59 L798.4 559.59" fill="none" stroke="#1f77b4" stroke-width="2.3" stroke-linejoin="round" stroke-linecap="butt"/>
<line x1="713.7" y1="684.5" x2="798" y2="684.5" stroke="#ff7f0e" stroke-width="1" stroke-dasharray="1.5 2" opacity="0.6"/>
<path d="M644.4 684.5 L645.04 684.5 L645.68 684.5 L646.33 684.5 L646.97 684.5 L647.61 684.5 L648.25 684.5 L648.89 684.5 L649.53 684.5 L650.17 684.5 L650.82 684.5 L651.46 684.5 L652.1 684.5 L652.74 684.5 L653.38 684.5 L654.02 684.5 L654.67 684.5 L655.31 684.5 L655.95 684.5 L656.59 684.5 L657.23 684.5 L657.88 684.5 L658.52 684.5 L659.16 684.5 L659.8 684.5 L660.44 684.5 L661.08 684.5 L661.72 684.5 L662.37 684.5 L663.01 684.5 L663.65 684.5 L664.29 684.5 L664.93 684.5 L665.58 684.5 L666.22 684.5 L666.86 684.5 L667.5 684.5 L668.14 684.49 L668.78 684.49 L669.42 684.49 L670.07 684.49 L670.71 684.49 L671.35 684.48 L671.99 684.48 L672.63 684.47 L673.27 684.46 L673.92 684.45 L674.56 684.44 L675.2 684.43 L675.84 684.41 L676.48 684.39 L677.12 684.37 L677.77 684.34 L678.41 684.31 L679.05 684.27 L679.69 684.23 L680.33 684.18 L680.97 684.13 L681.62 684.07 L682.26 684 L682.9 683.93 L683.54 683.84 L684.18 683.75 L684.83 683.65 L685.47 683.55 L686.11 683.44 L686.75 683.32 L687.39 683.19 L688.03 683.06 L688.67 682.93 L689.32 682.79 L689.96 682.65 L690.6 682.51 L691.24 682.38 L691.88 682.25 L692.52 682.12 L693.17 682 L693.81 681.89 L694.45 681.79 L695.09 681.7 L695.73 681.63 L696.38 681.57 L697.02 681.52 L697.66 681.5 L698.3 681.48 L698.94 681.49 L699.58 681.51 L700.22 681.54 L700.87 681.59 L701.51 681.65 L702.15 681.73 L702.79 681.81 L703.43 681.89 L704.08 681.98 L704.72 682.07 L705.36 682.16 L706 682.24 L706.64 682.31 L707.28 682.37 L707.92 682.41 L708.57 682.43 L709.21 682.41 L709.85 682.37 L710.49 682.29 L711.13 682.16 L711.77 681.98 L712.42 681.75 L713.06 681.46 L713.7 681.09 L714.34 680.65 L714.98 680.13 L715.62 679.51 L716.27 678.8 L716.91 677.98 L717.55 677.04 L718.19 675.98 L718.83 674.8 L719.47 673.48 L720.12 672.03 L720.76 670.44 L721.4 668.7 L722.04 666.82 L722.68 664.8 L723.33 662.64 L723.97 660.36 L724.61 657.95 L725.25 655.43 L725.89 652.82 L726.53 650.12 L727.17 647.37 L727.82 644.57 L728.46 641.76 L729.1 638.96 L729.74 636.19 L730.38 633.49 L731.02 630.89 L731.67 628.4 L732.31 626.07 L732.95 623.92 L733.59 621.97 L734.23 620.25 L734.88 618.78 L735.52 617.59 L736.16 616.67 L736.8 616.06 L737.44 615.75 L738.08 615.75 L738.72 616.05 L739.37 616.66 L740.01 617.56 L740.65 618.74 L741.29 620.18 L741.93 621.87 L742.58 623.78 L743.22 625.88 L743.86 628.16 L744.5 630.57 L745.14 633.1 L745.78 635.72 L746.42 638.4 L747.07 641.1 L747.71 643.81 L748.35 646.5 L748.99 649.15 L749.63 651.74 L750.27 654.25 L750.92 656.67 L751.56 658.98 L752.2 661.18 L752.84 663.25 L753.48 665.2 L754.12 667.02 L754.77 668.7 L755.41 670.26 L756.05 671.69 L756.69 673 L757.33 674.19 L757.97 675.27 L758.62 676.24 L759.26 677.11 L759.9 677.9 L760.54 678.6 L761.18 679.22 L761.83 679.78 L762.47 680.27 L763.11 680.71 L763.75 681.09 L764.39 681.43 L765.03 681.74 L765.67 682.01 L766.32 682.25 L766.96 682.46 L767.6 682.65 L768.24 682.82 L768.88 682.97 L769.52 683.11 L770.17 683.23 L770.81 683.34 L771.45 683.44 L772.09 683.53 L772.73 683.62 L773.38 683.7 L774.02 683.77 L774.66 683.83 L775.3 683.89 L775.94 683.95 L776.58 684 L777.22 684.04 L777.87 684.09 L778.51 684.13 L779.15 684.16 L779.79 684.2 L780.43 684.23 L781.08 684.25 L781.72 684.28 L782.36 684.3 L783 684.32 L783.64 684.34 L784.28 684.36 L784.92 684.38 L785.57 684.39 L786.21 684.4 L786.85 684.41 L787.49 684.42 L788.13 684.43 L788.77 684.44 L789.42 684.45 L790.06 684.46 L790.7 684.46 L791.34 684.47 L791.98 684.47 L792.62 684.47 L793.27 684.48 L793.91 684.48 L794.55 684.48 L795.19 684.49 L795.83 684.49 L796.47 684.49 L797.12 684.49 L797.76 684.49 L798.4 684.49" fill="none" stroke="#ff7f0e" stroke-width="2.3" stroke-linejoin="round" stroke-linecap="butt"/>
<line x1="713.7" y1="808.3" x2="798" y2="808.3" stroke="#2ca02c" stroke-width="1" stroke-dasharray="1.5 2" opacity="0.6"/>
<path d="M644.4 808.3 L645.04 808.3 L645.68 808.3 L646.33 808.3 L646.97 808.3 L647.61 808.3 L648.25 808.3 L648.89 808.3 L649.53 808.3 L650.17 808.3 L650.82 808.3 L651.46 808.3 L652.1 808.3 L652.74 808.3 L653.38 808.3 L654.02 808.3 L654.67 808.3 L655.31 808.3 L655.95 808.3 L656.59 808.3 L657.23 808.3 L657.88 808.3 L658.52 808.3 L659.16 808.3 L659.8 808.3 L660.44 808.3 L661.08 808.3 L661.72 808.3 L662.37 808.3 L663.01 808.3 L663.65 808.3 L664.29 808.3 L664.93 808.3 L665.58 808.3 L666.22 808.29 L666.86 808.29 L667.5 808.29 L668.14 808.29 L668.78 808.28 L669.42 808.28 L670.07 808.27 L670.71 808.26 L671.35 808.24 L671.99 808.23 L672.63 808.21 L673.27 808.18 L673.92 808.15 L674.56 808.11 L675.2 808.07 L675.84 808.01 L676.48 807.95 L677.12 807.87 L677.77 807.77 L678.41 807.66 L679.05 807.53 L679.69 807.38 L680.33 807.21 L680.97 807.01 L681.62 806.79 L682.26 806.54 L682.9 806.26 L683.54 805.95 L684.18 805.61 L684.83 805.25 L685.47 804.85 L686.11 804.43 L686.75 803.98 L687.39 803.52 L688.03 803.03 L688.67 802.54 L689.32 802.03 L689.96 801.53 L690.6 801.03 L691.24 800.54 L691.88 800.07 L692.52 799.63 L693.17 799.22 L693.81 798.85 L694.45 798.53 L695.09 798.26 L695.73 798.05 L696.38 797.9 L697.02 797.81 L697.66 797.79 L698.3 797.84 L698.94 797.94 L699.58 798.12 L700.22 798.34 L700.87 798.63 L701.51 798.96 L702.15 799.33 L702.79 799.74 L703.43 800.18 L704.08 800.64 L704.72 801.11 L705.36 801.58 L706 802.05 L706.64 802.5 L707.28 802.94 L707.92 803.35 L708.57 803.72 L709.21 804.06 L709.85 804.35 L710.49 804.6 L711.13 804.79 L711.77 804.92 L712.42 804.98 L713.06 804.98 L713.7 804.9 L714.34 804.75 L714.98 804.52 L715.62 804.2 L716.27 803.8 L716.91 803.3 L717.55 802.71 L718.19 802.01 L718.83 801.21 L719.47 800.29 L720.12 799.27 L720.76 798.13 L721.4 796.87 L722.04 795.5 L722.68 794 L723.33 792.4 L723.97 790.67 L724.61 788.84 L725.25 786.91 L725.89 784.89 L726.53 782.78 L727.17 780.6 L727.82 778.37 L728.46 776.09 L729.1 773.79 L729.74 771.49 L730.38 769.21 L731.02 766.97 L731.67 764.79 L732.31 762.69 L732.95 760.7 L733.59 758.84 L734.23 757.14 L734.88 755.6 L735.52 754.25 L736.16 753.11 L736.8 752.19 L737.44 751.51 L738.08 751.06 L738.72 750.86 L739.37 750.9 L740.01 751.19 L740.65 751.72 L741.29 752.49 L741.93 753.48 L742.58 754.68 L743.22 756.07 L743.86 757.64 L744.5 759.37 L745.14 761.23 L745.78 763.21 L746.42 765.28 L747.07 767.42 L747.71 769.61 L748.35 771.82 L748.99 774.04 L749.63 776.25 L750.27 778.43 L750.92 780.56 L751.56 782.63 L752.2 784.63 L752.84 786.54 L753.48 788.37 L754.12 790.1 L754.77 791.72 L755.41 793.25 L756.05 794.67 L756.69 795.98 L757.33 797.19 L757.97 798.31 L758.62 799.32 L759.26 800.25 L759.9 801.08 L760.54 801.84 L761.18 802.52 L761.83 803.13 L762.47 803.68 L763.11 804.16 L763.75 804.6 L764.39 804.98 L765.03 805.32 L765.67 805.63 L766.32 805.9 L766.96 806.14 L767.6 806.35 L768.24 806.54 L768.88 806.71 L769.52 806.86 L770.17 806.99 L770.81 807.11 L771.45 807.22 L772.09 807.32 L772.73 807.41 L773.38 807.49 L774.02 807.56 L774.66 807.63 L775.3 807.69 L775.94 807.74 L776.58 807.79 L777.22 807.84 L777.87 807.88 L778.51 807.92 L779.15 807.96 L779.79 807.99 L780.43 808.02 L781.08 808.05 L781.72 808.08 L782.36 808.1 L783 808.12 L783.64 808.14 L784.28 808.16 L784.92 808.17 L785.57 808.19 L786.21 808.2 L786.85 808.21 L787.49 808.22 L788.13 808.23 L788.77 808.24 L789.42 808.25 L790.06 808.25 L790.7 808.26 L791.34 808.26 L791.98 808.27 L792.62 808.27 L793.27 808.28 L793.91 808.28 L794.55 808.28 L795.19 808.28 L795.83 808.29 L796.47 808.29 L797.12 808.29 L797.76 808.29 L798.4 808.29" fill="none" stroke="#2ca02c" stroke-width="2.3" stroke-linejoin="round" stroke-linecap="butt"/>
<rect x="644.4" y="477.2" width="154" height="338.4" rx="0" fill="none" stroke="#000" stroke-width="2"/>
<line x1="644.4" y1="815.6" x2="644.4" y2="819" stroke="#000" stroke-width="1.8"/>
<text x="644.4" y="838.8" font-size="25.1" text-anchor="middle" fill="#000" stroke="#000" stroke-width="0.25">12</text>
<line x1="682.9" y1="815.6" x2="682.9" y2="819" stroke="#000" stroke-width="1.8"/>
<text x="682.9" y="838.8" font-size="25.1" text-anchor="middle" fill="#000" stroke="#000" stroke-width="0.25">13</text>
<line x1="721.4" y1="815.6" x2="721.4" y2="819" stroke="#000" stroke-width="1.8"/>
<text x="721.4" y="838.8" font-size="25.1" text-anchor="middle" fill="#000" stroke="#000" stroke-width="0.25">14</text>
<line x1="759.9" y1="815.6" x2="759.9" y2="819" stroke="#000" stroke-width="1.8"/>
<text x="759.9" y="838.8" font-size="25.1" text-anchor="middle" fill="#000" stroke="#000" stroke-width="0.25">15</text>
<line x1="798.4" y1="815.6" x2="798.4" y2="819" stroke="#000" stroke-width="1.8"/>
<text x="798.4" y="838.8" font-size="25.1" text-anchor="middle" fill="#000" stroke="#000" stroke-width="0.25">16</text>
<text x="721.5" y="864.6" font-size="25" text-anchor="middle" fill="#000" stroke="#000" stroke-width="0.25">Retention time (min)</text>
<text x="636" y="646" font-size="25" text-anchor="middle" fill="#000" transform="rotate(-90 636 646)" stroke="#000" stroke-width="0.25">Signal intensity (a.u.)</text>
<text x="537" y="468" font-size="23.5" text-anchor="start" fill="#000" stroke="#000" stroke-width="0.25">Mannose</text>
<text x="727" y="468.2" font-size="23.5" text-anchor="start" fill="#000" stroke="#000" stroke-width="0.25">Fructose</text>
<line x1="641.3" y1="474.2" x2="662.24" y2="495.22" stroke="#231815" stroke-width="2"/>
<polygon points="669.3,502.3 664.02,489.21 662.24,495.22 656.23,496.97" fill="#231815" stroke="none" stroke-width="0"/>
<line x1="782.9" y1="470.5" x2="761.12" y2="491.98" stroke="#231815" stroke-width="2"/>
<polygon points="754,499 767.12,493.79 761.12,491.98 759.39,485.96" fill="#231815" stroke="none" stroke-width="0"/>
<text x="863" y="30.6" font-size="40" text-anchor="start" fill="#231815" stroke="#231815" stroke-width="0.15">c</text>
<path d="M1016.5 40.5H1444.5A85 108 0 0 1 1529.5 148.5V289A85 100 0 0 1 1444.5 389H1020.5A86 88 0 0 1 934.5 301V124.5A82 84 0 0 1 1016.5 40.5Z" stroke="#231815" stroke-width="2.2" fill="#B3D8FB"/>
<path d="M1022.2 50.6H1436.2A84 106 0 0 1 1520.2 156.6V280.8A84 98 0 0 1 1436.2 378.8H1021.2A79 92 0 0 1 942.2 286.8V132.6A80 82 0 0 1 1022.2 50.6Z" stroke="#231815" stroke-width="2.2" fill="#F2F9FE"/>
<path d="M934 122.5H979A5.5 17 0 0 1 979 156.5H934A5.5 17 0 0 1 934 122.5Z" stroke="#231815" stroke-width="2" fill="#B8D8F8"/>
<ellipse cx="934" cy="139.5" rx="5.5" ry="17" fill="#B8D8F8" stroke="#231815" stroke-width="2"/>
<path d="M979 122.5A5.5 17 0 0 0 979 156.5" stroke="#231815" stroke-width="2" fill="none"/>
<path d="M1485 119.5H1530A5.5 17 0 0 1 1530 153.5H1485A5.5 17 0 0 1 1485 119.5Z" stroke="#231815" stroke-width="2" fill="#DE8C7E"/>
<ellipse cx="1485" cy="136.5" rx="5.5" ry="17" fill="#DE8C7E" stroke="#231815" stroke-width="2"/>
<path d="M1530 119.5A5.5 17 0 0 0 1530 153.5" stroke="#231815" stroke-width="2" fill="none"/>
<circle cx="872.5" cy="137.6" r="5.3" fill="#ffffff" stroke="#D2606E" stroke-width="1.8"/>
<text x="883" y="145.3" font-size="27.5" text-anchor="start" fill="#D2606E" stroke="#D2606E" stroke-width="0.25">Glc</text>
<line x1="923" y1="139" x2="990" y2="139" stroke="#231815" stroke-width="2"/>
<polygon points="998.5,139 986.5,132.75 990,139 986.5,145.25" fill="#231815" stroke="none" stroke-width="0"/>
<circle cx="1012.2" cy="137.5" r="5.3" fill="#ffffff" stroke="#D2606E" stroke-width="1.8"/>
<text x="1021" y="145.3" font-size="27.5" text-anchor="start" fill="#D2606E" stroke="#D2606E" stroke-width="0.25">G6P</text>
<text x="974" y="111.3" font-size="27.5" text-anchor="start" fill="#5A1A8C" font-style="italic" stroke="#5A1A8C" stroke-width="0.25">ptsG</text>
<line x1="1084" y1="139" x2="1122.5" y2="139" stroke="#231815" stroke-width="2"/>
<polygon points="1131,139 1119,132.75 1122.5,139 1119,145.25" fill="#231815" stroke="none" stroke-width="0"/>
<text x="1087" y="126.3" font-size="27.5" text-anchor="start" fill="#5A1A8C" font-style="italic" stroke="#5A1A8C" stroke-width="0.25">pgi</text>
<circle cx="1140.7" cy="139.8" r="5.3" fill="#ffffff" stroke="#D2606E" stroke-width="1.8"/>
<text x="1150" y="147.3" font-size="27.5" text-anchor="start" fill="#D2606E" stroke="#D2606E" stroke-width="0.25">F6P</text>
<line x1="1207" y1="138.7" x2="1246" y2="138.7" stroke="#231815" stroke-width="2"/>
<polygon points="1254.5,138.7 1242.5,132.45 1246,138.7 1242.5,144.95" fill="#231815" stroke="none" stroke-width="0"/>
<text x="1202" y="127.6" font-size="27.5" text-anchor="start" fill="#5A1A8C" font-style="italic" stroke="#5A1A8C" stroke-width="0.25">alsE</text>
<circle cx="1268.8" cy="138" r="5.3" fill="#ffffff" stroke="#D2606E" stroke-width="1.8"/>
<text x="1276" y="144.8" font-size="27.5" text-anchor="start" fill="#D2606E" stroke="#D2606E" stroke-width="0.25">A6P</text>
<line x1="1336.5" y1="139.4" x2="1381.3" y2="139.4" stroke="#231815" stroke-width="2"/>
<polygon points="1389.8,139.4 1377.8,133.15 1381.3,139.4 1377.8,145.65" fill="#231815" stroke="none" stroke-width="0"/>
<text x="1333" y="127.6" font-size="27.5" text-anchor="start" fill="#5A1A8C" font-style="italic" stroke="#5A1A8C" stroke-width="0.25">a6pp</text>
<circle cx="1410.4" cy="139.6" r="5.3" fill="#ffffff" stroke="#D2606E" stroke-width="1.8"/>
<text x="1418.5" y="148.6" font-size="27.5" text-anchor="start" fill="#D2606E" stroke="#D2606E" stroke-width="0.25">All</text>
<polygon points="1430,78.8 1450.19,93.47 1442.48,117.2 1417.52,117.2 1409.81,93.47" fill="#E9686A" stroke="#231815" stroke-width="2" stroke-linejoin="miter"/>
<path d="M1459 135.6H1609V192" stroke="#231815" stroke-width="2" fill="none"/>
<polygon points="1609,203.5 1614.5,189.5 1609,193.5 1603.5,189.5" fill="#231815" stroke="none" stroke-width="0"/>
<circle cx="895.3" cy="185.3" r="18" fill="#0E6FB5" stroke="#231815" stroke-width="2"/>
<path d="M975 222.6H970Q960.5 222.6 960.5 232V312Q960.5 322 970 322H1018" stroke="#231815" stroke-width="2" fill="none"/>
<path d="M1136 321.7H1177Q1187 321.7 1187 312V232Q1187 222.6 1182 222.6" stroke="#231815" stroke-width="2" fill="none"/>
<line x1="1075.9" y1="222" x2="1084" y2="222" stroke="#231815" stroke-width="2"/>
<path d="M969 222.6V185.3H1000" stroke="#231815" stroke-width="2" fill="none"/>
<polygon points="1011.5,185.3 999.5,180.3 1002.5,185.3 999.5,190.3" fill="#231815" stroke="none" stroke-width="0"/>
<path d="M1077 222V184H1106" stroke="#231815" stroke-width="2" fill="none"/>
<polygon points="1117.7,184 1105.7,179 1108.7,184 1105.7,189" fill="#231815" stroke="none" stroke-width="0"/>
<rect x="975.2" y="208" width="65.3" height="27.4" rx="0" fill="#F9A0FA" stroke="#231815" stroke-width="1.4"/>
<polygon points="1040.5,200 1075.9,221.6 1040.5,243.2" fill="#F9A0FA" stroke="#231815" stroke-width="1.4" stroke-linejoin="miter"/>
<text x="983.36" y="230.6" font-size="26.5" text-anchor="start" fill="#000" font-style="italic" stroke="#000" stroke-width="0.25">alsE</text>
<rect x="1083.9" y="208" width="65.8" height="27.4" rx="0" fill="#C9B1F6" stroke="#231815" stroke-width="1.4"/>
<polygon points="1149.7,200 1185.1,221.6 1149.7,243.2" fill="#C9B1F6" stroke="#231815" stroke-width="1.4" stroke-linejoin="miter"/>
<text x="1089.12" y="229.8" font-size="26.5" text-anchor="start" fill="#000" font-style="italic" stroke="#000" stroke-width="0.25">a6pp</text>
<rect x="1017.8" y="306" width="82.1" height="29.8" rx="0" fill="#FFA8B9" stroke="#231815" stroke-width="1.4"/>
<polygon points="1099.9,299.8 1136.4,321.8 1099.9,343.8" fill="#FFA8B9" stroke="#231815" stroke-width="1.4" stroke-linejoin="miter"/>
<text x="1031.62" y="330.5" font-size="26.5" font-style="italic" fill="#000" stroke="#000" stroke-width="0.25">cm<tspan font-size="15" dy="-9.01">R</tspan></text>
<text x="1213.7" y="285.5" font-size="42" text-anchor="middle" fill="#231815" stroke="#231815" stroke-width="0.25">+</text>
<path d="M1257.3 221.3H1247Q1237.3 221.3 1237.3 231V311Q1237.3 321.2 1247 321.2H1299" stroke="#231815" stroke-width="2" fill="none"/>
<path d="M1418 321.2H1453Q1462.9 321.2 1462.9 311V231Q1462.9 221.3 1458 221.3" stroke="#231815" stroke-width="2" fill="none"/>
<line x1="1355.3" y1="221" x2="1367" y2="221" stroke="#231815" stroke-width="2"/>
<path d="M1251.1 221.3V184H1280" stroke="#231815" stroke-width="2" fill="none"/>
<polygon points="1291.9,184 1279.9,179 1282.9,184 1279.9,189" fill="#231815" stroke="none" stroke-width="0"/>
<path d="M1360.3 221V184.8H1389" stroke="#231815" stroke-width="2" fill="none"/>
<polygon points="1401.1,184.8 1389.1,179.8 1392.1,184.8 1389.1,189.8" fill="#231815" stroke="none" stroke-width="0"/>
<rect x="1257.3" y="207.1" width="66.5" height="27.5" rx="0" fill="#3AA1EB" stroke="#231815" stroke-width="1.4"/>
<polygon points="1323.8,201.3 1355.3,220.65 1323.8,240" fill="#3AA1EB" stroke="#231815" stroke-width="1.4" stroke-linejoin="miter"/>
<text x="1265.6" y="228.7" font-size="27" text-anchor="start" fill="#000" font-style="italic" stroke="#000" stroke-width="0.25">psiR</text>
<rect x="1367" y="207.1" width="66" height="27.5" rx="0" fill="#FFA45A" stroke="#231815" stroke-width="1.4"/>
<polygon points="1433,199.2 1470.4,220.9 1433,242.6" fill="#FFA45A" stroke="#231815" stroke-width="1.4" stroke-linejoin="miter"/>
<text x="1374.66" y="229.3" font-size="27" text-anchor="start" fill="#000" font-style="italic" stroke="#000" stroke-width="0.25">thmi</text>
<rect x="1299.3" y="305.7" width="81.8" height="29.6" rx="0" fill="#95A3D3" stroke="#231815" stroke-width="1.4"/>
<polygon points="1381.1,299 1417.9,321.4 1381.1,343.8" fill="#95A3D3" stroke="#231815" stroke-width="1.4" stroke-linejoin="miter"/>
<text x="1312.7" y="329.2" font-size="26.5" font-style="italic" fill="#000" stroke="#000" stroke-width="0.25">kan<tspan font-size="15" dy="-9.01">R</tspan></text>
<text x="1490" y="34.6" font-size="27.5" text-anchor="start" fill="#000" stroke="#000" stroke-width="0.25">Quorum input</text>
<text x="1733" y="34.6" font-size="27.5" text-anchor="start" fill="#000" stroke="#000" stroke-width="0.25">Sensor</text>
<text x="1910.5" y="34.6" font-size="27.5" text-anchor="start" fill="#000" stroke="#000" stroke-width="0.25">Output</text>
<path d="M1580.3 43.7Q1600 105 1661 119.5" stroke="#231815" stroke-width="2.4" fill="none"/>
<polygon points="1670,121.2 1658.83,113.52 1661.19,119.37 1656.69,123.8" fill="#231815" stroke="none" stroke-width="0"/>
<path d="M1869 27.5Q1908 36 1916.5 70" stroke="#231815" stroke-width="3.2" fill="none"/>
<path d="M1869 40Q1895 46 1902 67" stroke="#231815" stroke-width="2.4" fill="none"/>
<path d="M1872 50Q1885 55 1891 64" stroke="#231815" stroke-width="1.6" fill="none"/>
<rect x="1688.5" y="59.6" width="180.6" height="105.2" rx="8" fill="none" stroke="#231815" stroke-width="2.6"/>
<line x1="1707.9" y1="72.9" x2="1707.9" y2="151" stroke="#231815" stroke-width="2"/>
<circle cx="1707.9" cy="89" r="7.8" fill="#B07C45" stroke="#231815" stroke-width="1.6"/>
<line x1="1732.6" y1="72.9" x2="1732.6" y2="151" stroke="#231815" stroke-width="2"/>
<circle cx="1732.6" cy="119.8" r="7.8" fill="#F39A10" stroke="#231815" stroke-width="1.6"/>
<line x1="1755.3" y1="72.9" x2="1755.3" y2="151" stroke="#231815" stroke-width="2"/>
<circle cx="1755.3" cy="102.2" r="7.8" fill="#9A66F0" stroke="#231815" stroke-width="1.6"/>
<line x1="1780.3" y1="72.9" x2="1780.3" y2="151" stroke="#231815" stroke-width="2"/>
<circle cx="1780.3" cy="138.8" r="7.8" fill="#3BB54B" stroke="#231815" stroke-width="1.6"/>
<path d="M1815 78C1815 88 1826 86 1831 92" stroke="#231815" stroke-width="2" fill="none"/>
<path d="M1857 78C1857 88 1846 86 1841 92" stroke="#231815" stroke-width="2" fill="none"/>
<path d="M1809 65.5L1815 71.5L1821 65.5A8.3 8.3 0 1 1 1809 65.5Z" fill="#0A9BD2" stroke="#231815" stroke-width="1.8" stroke-linejoin="round"/>
<path d="M1851 65.5L1857 71.5L1863 65.5A8.3 8.3 0 1 1 1851 65.5Z" fill="#0A9BD2" stroke="#231815" stroke-width="1.8" stroke-linejoin="round"/>
<rect x="1819" y="90" width="16.5" height="35" rx="6" fill="#0A9BD2" stroke="#231815" stroke-width="2"/>
<rect x="1837" y="90" width="16.5" height="35" rx="6" fill="#0A9BD2" stroke="#231815" stroke-width="2"/>
<rect x="1819" y="125.5" width="16.5" height="33.5" rx="6" fill="#0A9BD2" stroke="#231815" stroke-width="2"/>
<rect x="1837" y="125.5" width="16.5" height="33.5" rx="6" fill="#0A9BD2" stroke="#231815" stroke-width="2"/>
<polygon points="1822.5,108.5 1831.07,114.73 1827.8,124.8 1817.2,124.8 1813.93,114.73" fill="#ffffff" stroke="#231815" stroke-width="1.3" stroke-linejoin="miter"/>
<polygon points="1849.6,108.5 1858.17,114.73 1854.9,124.8 1844.3,124.8 1841.03,114.73" fill="#ffffff" stroke="#231815" stroke-width="1.3" stroke-linejoin="miter"/>
<rect x="1542.6" y="173.8" width="132.6" height="189.7" rx="0" fill="none" stroke="#4a4040" stroke-width="1.8"/>
<rect x="1688.9" y="174.5" width="177.6" height="189.8" rx="0" fill="none" stroke="#4a4040" stroke-width="1.8"/>
<rect x="1885.8" y="174.5" width="103.7" height="186.9" rx="0" fill="none" stroke="#4a4040" stroke-width="1.8"/>
<polygon points="1586.9,201.4 1607.14,216.11 1599.41,239.9 1574.39,239.9 1566.66,216.11" fill="#E9686A" stroke="#231815" stroke-width="2" stroke-linejoin="miter"/>
<polygon points="1625.8,232.6 1646.04,247.31 1638.31,271.1 1613.29,271.1 1605.56,247.31" fill="#E9686A" stroke="#231815" stroke-width="2" stroke-linejoin="miter"/>
<polygon points="1586.9,259.9 1607.14,274.61 1599.41,298.4 1574.39,298.4 1566.66,274.61" fill="#E9686A" stroke="#231815" stroke-width="2" stroke-linejoin="miter"/>
<polygon points="1618,298.4 1638.24,313.11 1630.51,336.9 1605.49,336.9 1597.76,313.11" fill="#E9686A" stroke="#231815" stroke-width="2" stroke-linejoin="miter"/>
<line x1="1660" y1="212.5" x2="1697.5" y2="212.5" stroke="#231815" stroke-width="2.2"/>
<polygon points="1707.5,212.5 1694.5,207 1697.5,212.5 1694.5,218" fill="#231815" stroke="none" stroke-width="0"/>
<line x1="1855.5" y1="212.5" x2="1893.7" y2="212.5" stroke="#231815" stroke-width="2.2"/>
<polygon points="1903.7,212.5 1890.7,207 1893.7,212.5 1890.7,218" fill="#231815" stroke="none" stroke-width="0"/>
<line x1="1660" y1="261.9" x2="1697.5" y2="261.9" stroke="#231815" stroke-width="2.2"/>
<polygon points="1707.5,261.9 1694.5,256.4 1697.5,261.9 1694.5,267.4" fill="#231815" stroke="none" stroke-width="0"/>
<line x1="1855.5" y1="261.9" x2="1893.7" y2="261.9" stroke="#231815" stroke-width="2.2"/>
<polygon points="1903.7,261.9 1890.7,256.4 1893.7,261.9 1890.7,267.4" fill="#231815" stroke="none" stroke-width="0"/>
<line x1="1660" y1="313" x2="1697.5" y2="313" stroke="#231815" stroke-width="2.2"/>
<polygon points="1707.5,313 1694.5,307.5 1697.5,313 1694.5,318.5" fill="#231815" stroke="none" stroke-width="0"/>
<line x1="1855.5" y1="313" x2="1893.7" y2="313" stroke="#231815" stroke-width="2.2"/>
<polygon points="1903.7,313 1890.7,307.5 1893.7,313 1890.7,318.5" fill="#231815" stroke="none" stroke-width="0"/>
<rect x="1732" y="195.2" width="88.9" height="34.3" rx="13" fill="url(#capgrad)" stroke="#231815" stroke-width="3"/>
<rect x="1711.8" y="246.6" width="88.9" height="34.3" rx="13" fill="url(#capgrad)" stroke="#231815" stroke-width="3"/>
<rect x="1747.9" y="295.6" width="88.9" height="34.3" rx="13" fill="url(#capgrad)" stroke="#231815" stroke-width="3"/>
<use href="#prot" x="1904.5" y="182.5" width="75.6" height="67.2"/>
<use href="#prot" x="1904.5" y="283.5" width="75.6" height="67.2"/>
<path d="M1751 364.3C1752 397 1720 406.5 1680 406.5C1643 406.5 1620 392 1611 377" stroke="#000" stroke-width="2.8" fill="none"/>
<polygon points="1606.5,364.5 1604.65,383.2 1610.51,375.81 1619.72,377.85" fill="#000" stroke="none" stroke-width="0"/>
<text x="863.5" y="480" font-size="39" text-anchor="start" fill="#231815" stroke="#231815" stroke-width="0.2">d</text>
<path d="M981.9 550.5 L1025.04 551.34 L1046.62 567.9 L1068.19 600.54 L1089.76 625.02 L1111.33 669.18 L1154.48 762.54 L1240.77 798.78 L1370.2 799.5" fill="none" stroke="#1f77b4" stroke-width="3" stroke-linejoin="round" stroke-linecap="butt"/>
<line x1="981.9" y1="532.74" x2="981.9" y2="568.26" stroke="#1f77b4" stroke-width="1.9"/>
<line x1="976.5" y1="532.74" x2="987.3" y2="532.74" stroke="#1f77b4" stroke-width="1.9"/>
<line x1="976.5" y1="568.26" x2="987.3" y2="568.26" stroke="#1f77b4" stroke-width="1.9"/>
<circle cx="981.9" cy="550.5" r="7" fill="none" stroke="#1f77b4" stroke-width="1.9"/>
<line x1="1025.04" y1="548.94" x2="1025.04" y2="553.74" stroke="#1f77b4" stroke-width="1.9"/>
<line x1="1019.64" y1="548.94" x2="1030.44" y2="548.94" stroke="#1f77b4" stroke-width="1.9"/>
<line x1="1019.64" y1="553.74" x2="1030.44" y2="553.74" stroke="#1f77b4" stroke-width="1.9"/>
<circle cx="1025.04" cy="551.34" r="7" fill="none" stroke="#1f77b4" stroke-width="1.9"/>
<line x1="1046.62" y1="565.02" x2="1046.62" y2="570.78" stroke="#1f77b4" stroke-width="1.9"/>
<line x1="1041.22" y1="565.02" x2="1052.02" y2="565.02" stroke="#1f77b4" stroke-width="1.9"/>
<line x1="1041.22" y1="570.78" x2="1052.02" y2="570.78" stroke="#1f77b4" stroke-width="1.9"/>
<circle cx="1046.62" cy="567.9" r="7" fill="none" stroke="#1f77b4" stroke-width="1.9"/>
<line x1="1068.19" y1="593.34" x2="1068.19" y2="607.74" stroke="#1f77b4" stroke-width="1.9"/>
<line x1="1062.79" y1="593.34" x2="1073.59" y2="593.34" stroke="#1f77b4" stroke-width="1.9"/>
<line x1="1062.79" y1="607.74" x2="1073.59" y2="607.74" stroke="#1f77b4" stroke-width="1.9"/>
<circle cx="1068.19" cy="600.54" r="7" fill="none" stroke="#1f77b4" stroke-width="1.9"/>
<line x1="1089.76" y1="622.62" x2="1089.76" y2="627.42" stroke="#1f77b4" stroke-width="1.9"/>
<line x1="1084.36" y1="622.62" x2="1095.16" y2="622.62" stroke="#1f77b4" stroke-width="1.9"/>
<line x1="1084.36" y1="627.42" x2="1095.16" y2="627.42" stroke="#1f77b4" stroke-width="1.9"/>
<circle cx="1089.76" cy="625.02" r="7" fill="none" stroke="#1f77b4" stroke-width="1.9"/>
<line x1="1111.33" y1="663.18" x2="1111.33" y2="675.18" stroke="#1f77b4" stroke-width="1.9"/>
<line x1="1105.93" y1="663.18" x2="1116.73" y2="663.18" stroke="#1f77b4" stroke-width="1.9"/>
<line x1="1105.93" y1="675.18" x2="1116.73" y2="675.18" stroke="#1f77b4" stroke-width="1.9"/>
<circle cx="1111.33" cy="669.18" r="7" fill="none" stroke="#1f77b4" stroke-width="1.9"/>
<line x1="1154.48" y1="752.94" x2="1154.48" y2="772.14" stroke="#1f77b4" stroke-width="1.9"/>
<line x1="1149.08" y1="752.94" x2="1159.88" y2="752.94" stroke="#1f77b4" stroke-width="1.9"/>
<line x1="1149.08" y1="772.14" x2="1159.88" y2="772.14" stroke="#1f77b4" stroke-width="1.9"/>
<circle cx="1154.48" cy="762.54" r="7" fill="none" stroke="#1f77b4" stroke-width="1.9"/>
<line x1="1240.77" y1="798.3" x2="1240.77" y2="799.26" stroke="#1f77b4" stroke-width="1.9"/>
<line x1="1235.37" y1="798.3" x2="1246.17" y2="798.3" stroke="#1f77b4" stroke-width="1.9"/>
<line x1="1235.37" y1="799.26" x2="1246.17" y2="799.26" stroke="#1f77b4" stroke-width="1.9"/>
<circle cx="1240.77" cy="798.78" r="7" fill="none" stroke="#1f77b4" stroke-width="1.9"/>
<line x1="1370.2" y1="799.02" x2="1370.2" y2="799.98" stroke="#1f77b4" stroke-width="1.9"/>
<line x1="1364.8" y1="799.02" x2="1375.6" y2="799.02" stroke="#1f77b4" stroke-width="1.9"/>
<line x1="1364.8" y1="799.98" x2="1375.6" y2="799.98" stroke="#1f77b4" stroke-width="1.9"/>
<circle cx="1370.2" cy="799.5" r="7" fill="none" stroke="#1f77b4" stroke-width="1.9"/>
<path d="M981.9 804.2 L1025.04 790.26 L1046.62 779.65 L1068.19 760.16 L1089.76 728.48 L1111.33 655.78 L1154.48 582.92 L1240.77 541.73 L1370.2 548.7" fill="none" stroke="#ff7f0e" stroke-width="3" stroke-linejoin="round" stroke-linecap="butt"/>
<line x1="981.9" y1="796.28" x2="981.9" y2="812.12" stroke="#ff7f0e" stroke-width="1.9"/>
<line x1="976.5" y1="796.28" x2="987.3" y2="796.28" stroke="#ff7f0e" stroke-width="1.9"/>
<line x1="976.5" y1="812.12" x2="987.3" y2="812.12" stroke="#ff7f0e" stroke-width="1.9"/>
<circle cx="981.9" cy="804.2" r="7" fill="none" stroke="#ff7f0e" stroke-width="1.9"/>
<line x1="1025.04" y1="787.09" x2="1025.04" y2="793.43" stroke="#ff7f0e" stroke-width="1.9"/>
<line x1="1019.64" y1="787.09" x2="1030.44" y2="787.09" stroke="#ff7f0e" stroke-width="1.9"/>
<line x1="1019.64" y1="793.43" x2="1030.44" y2="793.43" stroke="#ff7f0e" stroke-width="1.9"/>
<circle cx="1025.04" cy="790.26" r="7" fill="none" stroke="#ff7f0e" stroke-width="1.9"/>
<line x1="1046.62" y1="774.9" x2="1046.62" y2="784.4" stroke="#ff7f0e" stroke-width="1.9"/>
<line x1="1041.22" y1="774.9" x2="1052.02" y2="774.9" stroke="#ff7f0e" stroke-width="1.9"/>
<line x1="1041.22" y1="784.4" x2="1052.02" y2="784.4" stroke="#ff7f0e" stroke-width="1.9"/>
<circle cx="1046.62" cy="779.65" r="7" fill="none" stroke="#ff7f0e" stroke-width="1.9"/>
<line x1="1068.19" y1="755.41" x2="1068.19" y2="764.92" stroke="#ff7f0e" stroke-width="1.9"/>
<line x1="1062.79" y1="755.41" x2="1073.59" y2="755.41" stroke="#ff7f0e" stroke-width="1.9"/>
<line x1="1062.79" y1="764.92" x2="1073.59" y2="764.92" stroke="#ff7f0e" stroke-width="1.9"/>
<circle cx="1068.19" cy="760.16" r="7" fill="none" stroke="#ff7f0e" stroke-width="1.9"/>
<line x1="1089.76" y1="725.32" x2="1089.76" y2="731.65" stroke="#ff7f0e" stroke-width="1.9"/>
<line x1="1084.36" y1="725.32" x2="1095.16" y2="725.32" stroke="#ff7f0e" stroke-width="1.9"/>
<line x1="1084.36" y1="731.65" x2="1095.16" y2="731.65" stroke="#ff7f0e" stroke-width="1.9"/>
<circle cx="1089.76" cy="728.48" r="7" fill="none" stroke="#ff7f0e" stroke-width="1.9"/>
<line x1="1111.33" y1="647.86" x2="1111.33" y2="663.7" stroke="#ff7f0e" stroke-width="1.9"/>
<line x1="1105.93" y1="647.86" x2="1116.73" y2="647.86" stroke="#ff7f0e" stroke-width="1.9"/>
<line x1="1105.93" y1="663.7" x2="1116.73" y2="663.7" stroke="#ff7f0e" stroke-width="1.9"/>
<circle cx="1111.33" cy="655.78" r="7" fill="none" stroke="#ff7f0e" stroke-width="1.9"/>
<line x1="1154.48" y1="578.16" x2="1154.48" y2="587.67" stroke="#ff7f0e" stroke-width="1.9"/>
<line x1="1149.08" y1="578.16" x2="1159.88" y2="578.16" stroke="#ff7f0e" stroke-width="1.9"/>
<line x1="1149.08" y1="587.67" x2="1159.88" y2="587.67" stroke="#ff7f0e" stroke-width="1.9"/>
<circle cx="1154.48" cy="582.92" r="7" fill="none" stroke="#ff7f0e" stroke-width="1.9"/>
<line x1="1240.77" y1="533.81" x2="1240.77" y2="549.65" stroke="#ff7f0e" stroke-width="1.9"/>
<line x1="1235.37" y1="533.81" x2="1246.17" y2="533.81" stroke="#ff7f0e" stroke-width="1.9"/>
<line x1="1235.37" y1="549.65" x2="1246.17" y2="549.65" stroke="#ff7f0e" stroke-width="1.9"/>
<circle cx="1240.77" cy="541.73" r="7" fill="none" stroke="#ff7f0e" stroke-width="1.9"/>
<line x1="1370.2" y1="534.44" x2="1370.2" y2="562.96" stroke="#ff7f0e" stroke-width="1.9"/>
<line x1="1364.8" y1="534.44" x2="1375.6" y2="534.44" stroke="#ff7f0e" stroke-width="1.9"/>
<line x1="1364.8" y1="562.96" x2="1375.6" y2="562.96" stroke="#ff7f0e" stroke-width="1.9"/>
<circle cx="1370.2" cy="548.7" r="7" fill="none" stroke="#ff7f0e" stroke-width="1.9"/>
<rect x="963.2" y="486.8" width="426.3" height="325.9" rx="0" fill="none" stroke="#000" stroke-width="2"/>
<line x1="981.9" y1="812.7" x2="981.9" y2="817.7" stroke="#000" stroke-width="1.8"/>
<text x="981.9" y="837.2" font-size="25.1" text-anchor="middle" fill="#000" stroke="#000" stroke-width="0.25">0</text>
<line x1="1046.62" y1="812.7" x2="1046.62" y2="817.7" stroke="#000" stroke-width="1.8"/>
<text x="1046.62" y="837.2" font-size="25.1" text-anchor="middle" fill="#000" stroke="#000" stroke-width="0.25">3</text>
<line x1="1111.33" y1="812.7" x2="1111.33" y2="817.7" stroke="#000" stroke-width="1.8"/>
<text x="1111.33" y="837.2" font-size="25.1" text-anchor="middle" fill="#000" stroke="#000" stroke-width="0.25">6</text>
<line x1="1176.05" y1="812.7" x2="1176.05" y2="817.7" stroke="#000" stroke-width="1.8"/>
<text x="1176.05" y="837.2" font-size="25.1" text-anchor="middle" fill="#000" stroke="#000" stroke-width="0.25">9</text>
<line x1="1240.77" y1="812.7" x2="1240.77" y2="817.7" stroke="#000" stroke-width="1.8"/>
<text x="1240.77" y="837.2" font-size="25.1" text-anchor="middle" fill="#000" stroke="#000" stroke-width="0.25">12</text>
<line x1="1305.48" y1="812.7" x2="1305.48" y2="817.7" stroke="#000" stroke-width="1.8"/>
<text x="1305.48" y="837.2" font-size="25.1" text-anchor="middle" fill="#000" stroke="#000" stroke-width="0.25">15</text>
<line x1="1370.2" y1="812.7" x2="1370.2" y2="817.7" stroke="#000" stroke-width="1.8"/>
<text x="1370.2" y="837.2" font-size="25.1" text-anchor="middle" fill="#000" stroke="#000" stroke-width="0.25">18</text>
<line x1="959.2" y1="799.5" x2="963.2" y2="799.5" stroke="#000" stroke-width="1.8"/>
<text x="956" y="808.54" font-size="25.1" text-anchor="end" fill="#000" stroke="#000" stroke-width="0.25">0.0</text>
<line x1="959.2" y1="739.5" x2="963.2" y2="739.5" stroke="#000" stroke-width="1.8"/>
<text x="956" y="748.54" font-size="25.1" text-anchor="end" fill="#000" stroke="#000" stroke-width="0.25">2.5</text>
<line x1="959.2" y1="679.5" x2="963.2" y2="679.5" stroke="#000" stroke-width="1.8"/>
<text x="956" y="688.54" font-size="25.1" text-anchor="end" fill="#000" stroke="#000" stroke-width="0.25">5.0</text>
<line x1="959.2" y1="619.5" x2="963.2" y2="619.5" stroke="#000" stroke-width="1.8"/>
<text x="956" y="628.54" font-size="25.1" text-anchor="end" fill="#000" stroke="#000" stroke-width="0.25">7.5</text>
<line x1="959.2" y1="559.5" x2="963.2" y2="559.5" stroke="#000" stroke-width="1.8"/>
<text x="956" y="568.54" font-size="25.1" text-anchor="end" fill="#000" stroke="#000" stroke-width="0.25">10.0</text>
<line x1="959.2" y1="499.5" x2="963.2" y2="499.5" stroke="#000" stroke-width="1.8"/>
<text x="956" y="508.54" font-size="25.1" text-anchor="end" fill="#000" stroke="#000" stroke-width="0.25">12.5</text>
<line x1="1389.5" y1="804.2" x2="1393.5" y2="804.2" stroke="#000" stroke-width="1.8"/>
<text x="1395" y="813.24" font-size="25.1" text-anchor="start" fill="#000" stroke="#000" stroke-width="0.25">0.0</text>
<line x1="1389.5" y1="725" x2="1393.5" y2="725" stroke="#000" stroke-width="1.8"/>
<text x="1395" y="734.04" font-size="25.1" text-anchor="start" fill="#000" stroke="#000" stroke-width="0.25">0.5</text>
<line x1="1389.5" y1="645.8" x2="1393.5" y2="645.8" stroke="#000" stroke-width="1.8"/>
<text x="1395" y="654.84" font-size="25.1" text-anchor="start" fill="#000" stroke="#000" stroke-width="0.25">1.0</text>
<line x1="1389.5" y1="566.6" x2="1393.5" y2="566.6" stroke="#000" stroke-width="1.8"/>
<text x="1395" y="575.64" font-size="25.1" text-anchor="start" fill="#000" stroke="#000" stroke-width="0.25">1.5</text>
<line x1="1389.5" y1="487.4" x2="1393.5" y2="487.4" stroke="#000" stroke-width="1.8"/>
<text x="1395" y="496.44" font-size="25.1" text-anchor="start" fill="#000" stroke="#000" stroke-width="0.25">2.0</text>
<text x="1176" y="863.4" font-size="25" text-anchor="middle" fill="#000" stroke="#000" stroke-width="0.25">Time (h)</text>
<text x="900.3" y="649.5" font-size="25" text-anchor="middle" fill="#000" transform="rotate(-90 900.3 649.5)" stroke="#000" stroke-width="0.25">Glucose (g/L)</text>
<text x="1452" y="649.5" font-size="25" text-anchor="middle" fill="#000" transform="rotate(-90 1452 649.5)" stroke="#000" stroke-width="0.25">Allulose (g/L)</text>
<line x1="983.2" y1="517.8" x2="1035.7" y2="517.8" stroke="#1f77b4" stroke-width="3"/>
<text x="1054" y="525.8" font-size="25" text-anchor="start" fill="#000" stroke="#000" stroke-width="0.25">Glucose</text>
<line x1="1192" y1="517.3" x2="1244.5" y2="517.3" stroke="#ff7f0e" stroke-width="3"/>
<text x="1262.5" y="526.1" font-size="25" text-anchor="start" fill="#000" stroke="#000" stroke-width="0.25">Allulose</text>
<path d="M1553.7 802.03 L1597.49 800.35 L1641.28 794.78 L1685.07 775.78 L1728.86 761.29 L1816.43 747.53 L1947.8 741.55" fill="none" stroke="#2ca02c" stroke-width="3" stroke-linejoin="round" stroke-linecap="butt"/>
<line x1="1553.7" y1="801.82" x2="1553.7" y2="802.24" stroke="#2ca02c" stroke-width="1.9"/>
<line x1="1548.3" y1="801.82" x2="1559.1" y2="801.82" stroke="#2ca02c" stroke-width="1.9"/>
<line x1="1548.3" y1="802.24" x2="1559.1" y2="802.24" stroke="#2ca02c" stroke-width="1.9"/>
<circle cx="1553.7" cy="802.03" r="7" fill="none" stroke="#2ca02c" stroke-width="1.9"/>
<line x1="1597.49" y1="799.82" x2="1597.49" y2="800.88" stroke="#2ca02c" stroke-width="1.9"/>
<line x1="1592.09" y1="799.82" x2="1602.89" y2="799.82" stroke="#2ca02c" stroke-width="1.9"/>
<line x1="1592.09" y1="800.88" x2="1602.89" y2="800.88" stroke="#2ca02c" stroke-width="1.9"/>
<circle cx="1597.49" cy="800.35" r="7" fill="none" stroke="#2ca02c" stroke-width="1.9"/>
<line x1="1641.28" y1="794.26" x2="1641.28" y2="795.31" stroke="#2ca02c" stroke-width="1.9"/>
<line x1="1635.88" y1="794.26" x2="1646.68" y2="794.26" stroke="#2ca02c" stroke-width="1.9"/>
<line x1="1635.88" y1="795.31" x2="1646.68" y2="795.31" stroke="#2ca02c" stroke-width="1.9"/>
<circle cx="1641.28" cy="794.78" r="7" fill="none" stroke="#2ca02c" stroke-width="1.9"/>
<line x1="1685.07" y1="774.2" x2="1685.07" y2="777.36" stroke="#2ca02c" stroke-width="1.9"/>
<line x1="1679.67" y1="774.2" x2="1690.47" y2="774.2" stroke="#2ca02c" stroke-width="1.9"/>
<line x1="1679.67" y1="777.36" x2="1690.47" y2="777.36" stroke="#2ca02c" stroke-width="1.9"/>
<circle cx="1685.07" cy="775.78" r="7" fill="none" stroke="#2ca02c" stroke-width="1.9"/>
<line x1="1728.86" y1="758.14" x2="1728.86" y2="764.44" stroke="#2ca02c" stroke-width="1.9"/>
<line x1="1723.46" y1="758.14" x2="1734.26" y2="758.14" stroke="#2ca02c" stroke-width="1.9"/>
<line x1="1723.46" y1="764.44" x2="1734.26" y2="764.44" stroke="#2ca02c" stroke-width="1.9"/>
<circle cx="1728.86" cy="761.29" r="7" fill="none" stroke="#2ca02c" stroke-width="1.9"/>
<line x1="1816.43" y1="745.43" x2="1816.43" y2="749.63" stroke="#2ca02c" stroke-width="1.9"/>
<line x1="1811.03" y1="745.43" x2="1821.83" y2="745.43" stroke="#2ca02c" stroke-width="1.9"/>
<line x1="1811.03" y1="749.63" x2="1821.83" y2="749.63" stroke="#2ca02c" stroke-width="1.9"/>
<circle cx="1816.43" cy="747.53" r="7" fill="none" stroke="#2ca02c" stroke-width="1.9"/>
<line x1="1947.8" y1="732.1" x2="1947.8" y2="751" stroke="#2ca02c" stroke-width="1.9"/>
<line x1="1942.4" y1="732.1" x2="1953.2" y2="732.1" stroke="#2ca02c" stroke-width="1.9"/>
<line x1="1942.4" y1="751" x2="1953.2" y2="751" stroke="#2ca02c" stroke-width="1.9"/>
<circle cx="1947.8" cy="741.55" r="7" fill="none" stroke="#2ca02c" stroke-width="1.9"/>
<path d="M1553.7 800.03 L1597.49 787.23 L1641.28 777.99 L1685.07 752.68 L1728.86 706.9 L1816.43 612.4 L1947.8 568.3" fill="none" stroke="#d62728" stroke-width="3" stroke-linejoin="round" stroke-linecap="butt"/>
<line x1="1553.7" y1="799.51" x2="1553.7" y2="800.56" stroke="#d62728" stroke-width="1.9"/>
<line x1="1548.3" y1="799.51" x2="1559.1" y2="799.51" stroke="#d62728" stroke-width="1.9"/>
<line x1="1548.3" y1="800.56" x2="1559.1" y2="800.56" stroke="#d62728" stroke-width="1.9"/>
<circle cx="1553.7" cy="800.03" r="7" fill="none" stroke="#d62728" stroke-width="1.9"/>
<line x1="1597.49" y1="784.07" x2="1597.49" y2="790.38" stroke="#d62728" stroke-width="1.9"/>
<line x1="1592.09" y1="784.07" x2="1602.89" y2="784.07" stroke="#d62728" stroke-width="1.9"/>
<line x1="1592.09" y1="790.38" x2="1602.89" y2="790.38" stroke="#d62728" stroke-width="1.9"/>
<circle cx="1597.49" cy="787.23" r="7" fill="none" stroke="#d62728" stroke-width="1.9"/>
<line x1="1641.28" y1="776.41" x2="1641.28" y2="779.56" stroke="#d62728" stroke-width="1.9"/>
<line x1="1635.88" y1="776.41" x2="1646.68" y2="776.41" stroke="#d62728" stroke-width="1.9"/>
<line x1="1635.88" y1="779.56" x2="1646.68" y2="779.56" stroke="#d62728" stroke-width="1.9"/>
<circle cx="1641.28" cy="777.99" r="7" fill="none" stroke="#d62728" stroke-width="1.9"/>
<line x1="1685.07" y1="749.53" x2="1685.07" y2="755.83" stroke="#d62728" stroke-width="1.9"/>
<line x1="1679.67" y1="749.53" x2="1690.47" y2="749.53" stroke="#d62728" stroke-width="1.9"/>
<line x1="1679.67" y1="755.83" x2="1690.47" y2="755.83" stroke="#d62728" stroke-width="1.9"/>
<circle cx="1685.07" cy="752.68" r="7" fill="none" stroke="#d62728" stroke-width="1.9"/>
<line x1="1728.86" y1="693.14" x2="1728.86" y2="720.65" stroke="#d62728" stroke-width="1.9"/>
<line x1="1723.46" y1="693.14" x2="1734.26" y2="693.14" stroke="#d62728" stroke-width="1.9"/>
<line x1="1723.46" y1="720.65" x2="1734.26" y2="720.65" stroke="#d62728" stroke-width="1.9"/>
<circle cx="1728.86" cy="706.9" r="7" fill="none" stroke="#d62728" stroke-width="1.9"/>
<line x1="1816.43" y1="607.15" x2="1816.43" y2="617.65" stroke="#d62728" stroke-width="1.9"/>
<line x1="1811.03" y1="607.15" x2="1821.83" y2="607.15" stroke="#d62728" stroke-width="1.9"/>
<line x1="1811.03" y1="617.65" x2="1821.83" y2="617.65" stroke="#d62728" stroke-width="1.9"/>
<circle cx="1816.43" cy="612.4" r="7" fill="none" stroke="#d62728" stroke-width="1.9"/>
<line x1="1947.8" y1="554.65" x2="1947.8" y2="581.95" stroke="#d62728" stroke-width="1.9"/>
<line x1="1942.4" y1="554.65" x2="1953.2" y2="554.65" stroke="#d62728" stroke-width="1.9"/>
<line x1="1942.4" y1="581.95" x2="1953.2" y2="581.95" stroke="#d62728" stroke-width="1.9"/>
<circle cx="1947.8" cy="568.3" r="7" fill="none" stroke="#d62728" stroke-width="1.9"/>
<rect x="1543" y="486.6" width="426.3" height="325.9" rx="0" fill="none" stroke="#000" stroke-width="2"/>
<line x1="1553.7" y1="812.5" x2="1553.7" y2="817.5" stroke="#000" stroke-width="1.8"/>
<text x="1553.7" y="837" font-size="25.1" text-anchor="middle" fill="#000" stroke="#000" stroke-width="0.25">0</text>
<line x1="1619.38" y1="812.5" x2="1619.38" y2="817.5" stroke="#000" stroke-width="1.8"/>
<text x="1619.38" y="837" font-size="25.1" text-anchor="middle" fill="#000" stroke="#000" stroke-width="0.25">3</text>
<line x1="1685.07" y1="812.5" x2="1685.07" y2="817.5" stroke="#000" stroke-width="1.8"/>
<text x="1685.07" y="837" font-size="25.1" text-anchor="middle" fill="#000" stroke="#000" stroke-width="0.25">6</text>
<line x1="1750.75" y1="812.5" x2="1750.75" y2="817.5" stroke="#000" stroke-width="1.8"/>
<text x="1750.75" y="837" font-size="25.1" text-anchor="middle" fill="#000" stroke="#000" stroke-width="0.25">9</text>
<line x1="1816.43" y1="812.5" x2="1816.43" y2="817.5" stroke="#000" stroke-width="1.8"/>
<text x="1816.43" y="837" font-size="25.1" text-anchor="middle" fill="#000" stroke="#000" stroke-width="0.25">12</text>
<line x1="1882.12" y1="812.5" x2="1882.12" y2="817.5" stroke="#000" stroke-width="1.8"/>
<text x="1882.12" y="837" font-size="25.1" text-anchor="middle" fill="#000" stroke="#000" stroke-width="0.25">15</text>
<line x1="1947.8" y1="812.5" x2="1947.8" y2="817.5" stroke="#000" stroke-width="1.8"/>
<text x="1947.8" y="837" font-size="25.1" text-anchor="middle" fill="#000" stroke="#000" stroke-width="0.25">18</text>
<line x1="1539" y1="801.4" x2="1543" y2="801.4" stroke="#000" stroke-width="1.8"/>
<text x="1535.8" y="810.44" font-size="25.1" text-anchor="end" fill="#000" stroke="#000" stroke-width="0.25">0</text>
<line x1="1539" y1="696.4" x2="1543" y2="696.4" stroke="#000" stroke-width="1.8"/>
<text x="1535.8" y="705.44" font-size="25.1" text-anchor="end" fill="#000" stroke="#000" stroke-width="0.25">10</text>
<line x1="1539" y1="591.4" x2="1543" y2="591.4" stroke="#000" stroke-width="1.8"/>
<text x="1535.8" y="600.44" font-size="25.1" text-anchor="end" fill="#000" stroke="#000" stroke-width="0.25">20</text>
<line x1="1539" y1="486.4" x2="1543" y2="486.4" stroke="#000" stroke-width="1.8"/>
<text x="1535.8" y="495.44" font-size="25.1" text-anchor="end" fill="#000" stroke="#000" stroke-width="0.25">30</text>
<text x="1750" y="863.4" font-size="25" text-anchor="middle" fill="#000" stroke="#000" stroke-width="0.25">Time (h)</text>
<text x="1501" y="648.7" font-size="25" text-anchor="middle" fill="#000" transform="rotate(-90 1501 648.7)" stroke="#000" stroke-width="0.25">Crude enzyme activity (U/mL)</text>
<line x1="1565.3" y1="517.3" x2="1617.8" y2="517.3" stroke="#2ca02c" stroke-width="3"/>
<text x="1636" y="526" font-size="25" text-anchor="start" fill="#000" stroke="#000" stroke-width="0.25">PsiR-WT</text>
<line x1="1782" y1="517.3" x2="1834.6" y2="517.3" stroke="#d62728" stroke-width="3"/>
<text x="1853" y="526" font-size="25" text-anchor="start" fill="#000" stroke="#000" stroke-width="0.25">PsiR-M4</text></svg>
</body></html>
